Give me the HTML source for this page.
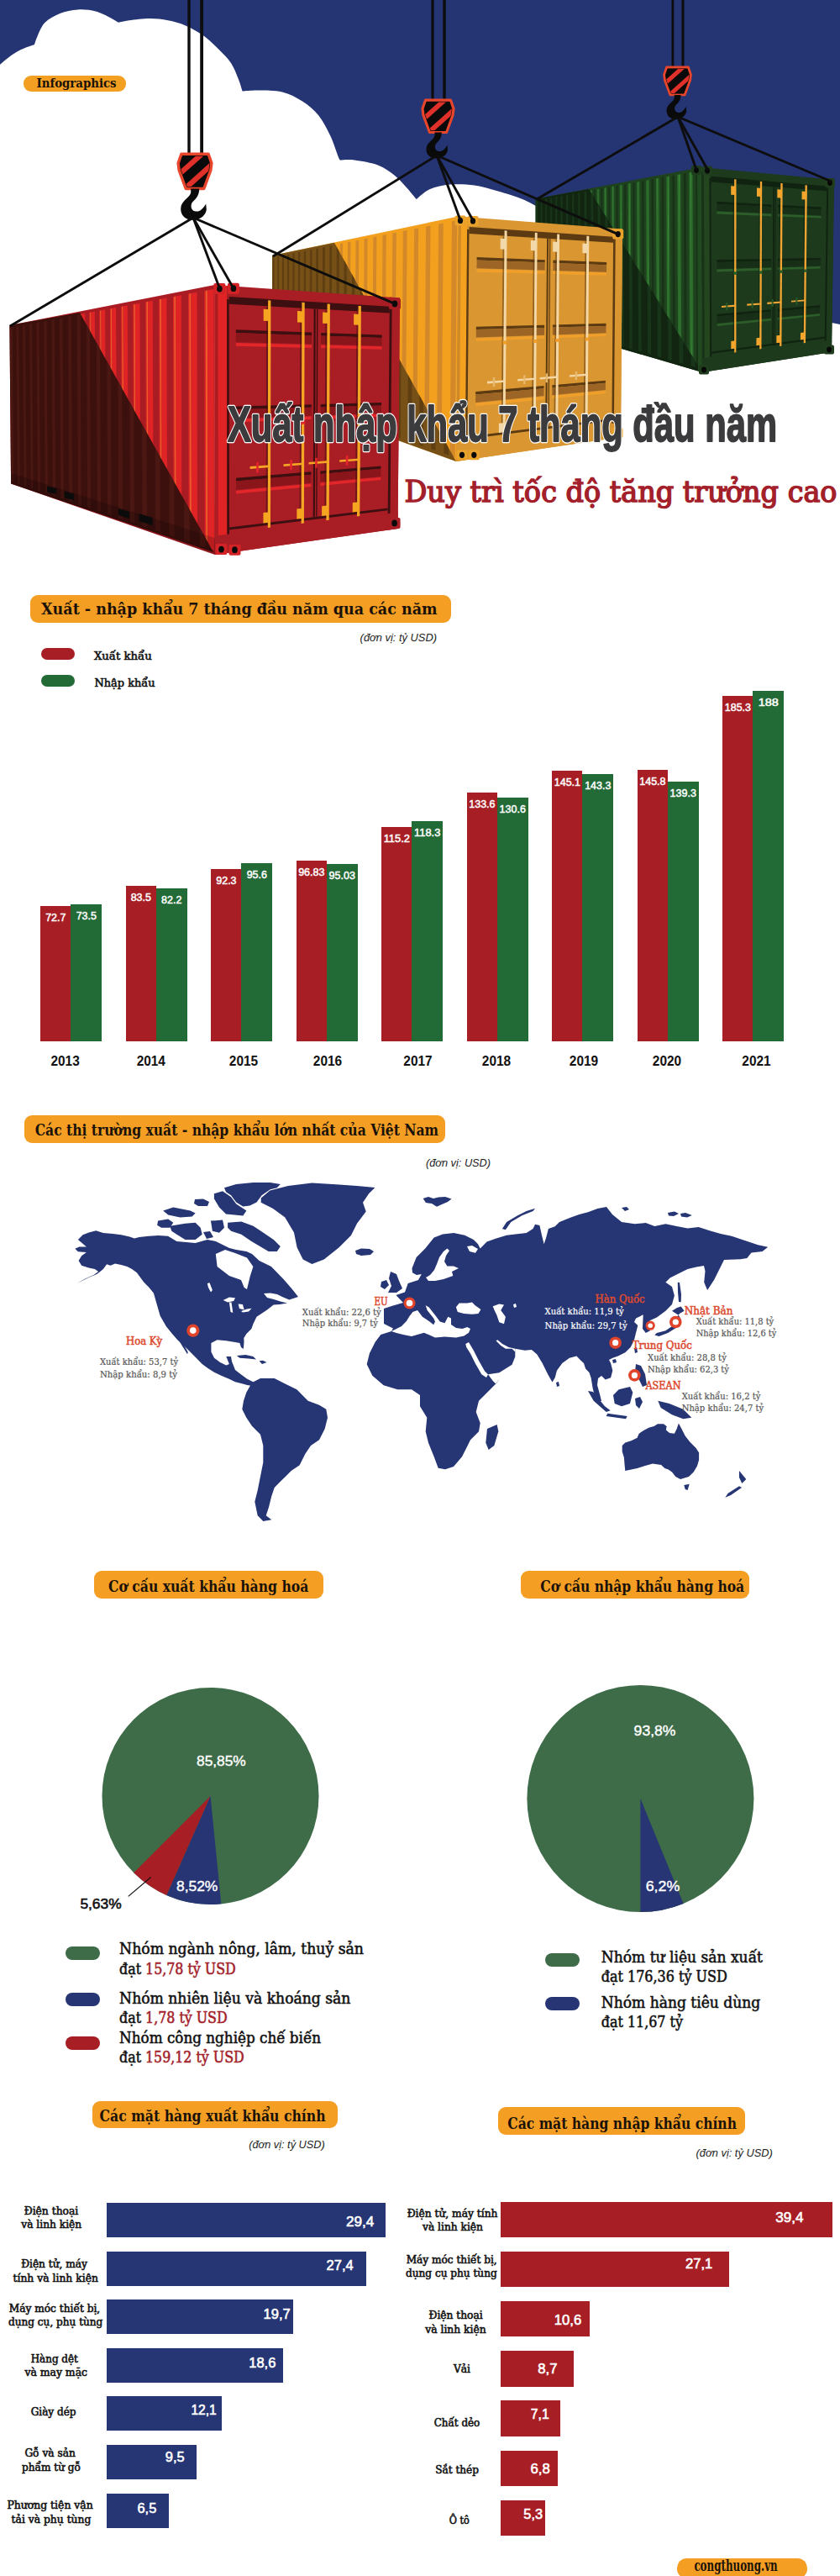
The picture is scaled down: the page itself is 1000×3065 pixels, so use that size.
<!DOCTYPE html>
<html lang="vi">
<head>
<meta charset="utf-8">
<title>Xuất nhập khẩu 7 tháng đầu năm</title>
<style>
*{margin:0;padding:0;box-sizing:border-box}
html,body{width:1000px;height:3065px;background:#fff;overflow:hidden}
body{position:relative;font-family:"Liberation Serif",serif;color:#111}
.a{position:absolute;white-space:nowrap}
.badge{position:absolute;background:#f59e24;border-radius:13px}
.bt{position:absolute;white-space:nowrap;font-family:"Liberation Serif",serif;font-weight:bold;color:#1a1208;transform-origin:0 0;line-height:1}
.unit{font-family:"Liberation Sans",sans-serif;font-style:italic;font-size:13px;color:#222;line-height:1}
.bar{position:absolute}
.r{background:#a81e25}
.g{background:#226b37}
.n{background:#263573}
.bv{position:absolute;font-family:"Liberation Sans",sans-serif;color:#fff;font-size:14px;white-space:nowrap;line-height:1}
.yr{position:absolute;font-family:"Liberation Sans",sans-serif;font-weight:bold;font-size:17px;color:#111;white-space:nowrap;transform:translateX(-50%);line-height:1}
.lbl{position:absolute;font-family:"Liberation Serif",serif;font-weight:bold;font-size:15px;line-height:17px;color:#111;text-align:center;white-space:nowrap;transform:translateX(-50%)}
.hv{position:absolute;font-family:"Liberation Sans",sans-serif;font-weight:bold;font-size:18px;color:#fff;white-space:nowrap;line-height:1}
.pill{position:absolute;border-radius:8px}
.lg{position:absolute;font-family:"Liberation Serif",serif;font-weight:bold;font-size:21px;line-height:23px;color:#111;white-space:nowrap}
.lg b{color:#a0232b}
.mk{position:absolute;font-family:"Liberation Serif",serif;font-weight:bold;color:#e0452c;white-space:nowrap;line-height:1}
.mt{position:absolute;font-family:"Liberation Serif",serif;color:#555;font-size:11px;line-height:14px;white-space:nowrap}
</style>
</head>
<body>

<svg class="a" style="left:0;top:0" width="1000" height="700" viewBox="0 0 1000 700"><rect x="0" y="0" width="1000" height="700" fill="#253473"/>
<path d="M0.0,76.8 C1.8,75.3 6.5,70.9 10.7,67.9 C14.9,64.9 19.9,61.5 25.0,59.0 C30.1,56.5 38.3,53.9 41.0,52.9 L41.0,52.9 C41.6,51.2 42.5,47.2 44.6,42.9 C46.7,38.5 49.1,31.3 53.6,26.8 C58.1,22.3 64.9,18.6 71.4,16.0 C78.0,13.4 85.8,11.8 92.9,11.4 C100.0,11.0 107.5,11.9 114.0,13.6 C120.5,15.3 127.5,19.2 132.0,21.4 C136.5,23.6 139.5,25.9 141.0,26.8 L141.0,26.8 C143.1,26.4 147.3,25.1 153.6,24.3 C159.9,23.5 170.9,22.0 178.6,22.0 C186.3,22.0 192.9,22.9 200.0,24.3 C207.1,25.7 213.8,27.3 221.0,30.4 C228.2,33.5 236.4,38.2 243.0,43.0 C249.6,47.8 255.4,53.7 260.7,59.0 C266.0,64.3 271.1,69.2 275.0,75.0 C278.9,80.8 281.5,88.4 283.8,94.0 C286.1,99.6 287.8,106.2 288.6,108.6 L288.6,108.6 C291.8,108.4 299.7,107.4 307.6,107.6 C315.5,107.8 327.3,107.3 336.0,109.5 C344.7,111.7 352.8,115.9 360.0,120.5 C367.2,125.1 373.5,130.2 379.0,137.0 C384.5,143.8 389.0,152.7 393.0,161.0 C397.0,169.3 400.9,182.1 402.9,187.0 C404.9,191.9 404.6,189.9 405.0,190.5 L405.0,190.5 C407.8,190.5 414.4,189.5 422.0,190.5 C429.6,191.5 442.6,193.7 450.5,196.7 C458.4,199.7 463.9,204.2 469.5,208.6 C475.1,213.0 479.4,218.2 483.8,222.9 C488.2,227.6 493.7,234.7 495.7,237.0 L495.7,237.0 C498.4,235.0 505.3,227.9 512.0,225.0 C518.7,222.1 527.2,220.2 536.0,219.5 C544.8,218.8 555.3,219.2 564.8,220.5 C574.3,221.8 583.5,224.8 593.0,227.6 C602.5,230.3 614.0,233.8 622.0,237.0 C630.0,240.2 637.8,245.1 641.0,246.7 L700,300 L990,384 L1000,386 L1000,700 L0,700 Z" fill="#ffffff"/>
<polygon points="637.7,236.4 835.0,199.0 836.0,443.0 637.7,385.0" fill="#1f421e" />
<polygon points="637.7,238.6 638.3,238.5 638.3,383.0 637.7,382.8" fill="#2b6a2b" />
<polygon points="638.3,238.5 638.8,238.4 638.8,383.1 638.3,383.0" fill="#3a8c38" />
<polygon points="638.8,238.4 639.3,238.3 639.3,383.2 638.8,383.1" fill="#2b6a2b" />
<polygon points="640.6,238.1 641.7,237.9 641.7,383.9 640.6,383.6" fill="#173217" />
<polygon points="643.1,237.6 643.7,237.5 643.8,384.5 643.1,384.3" fill="#2b6a2b" />
<polygon points="643.7,237.5 644.2,237.4 644.2,384.6 643.8,384.5" fill="#3a8c38" />
<polygon points="644.2,237.4 644.7,237.3 644.8,384.8 644.2,384.6" fill="#2b6a2b" />
<polygon points="646.1,237.1 647.2,236.9 647.3,385.5 646.2,385.2" fill="#173217" />
<polygon points="648.7,236.6 649.3,236.5 649.4,386.1 648.7,385.9" fill="#2b6a2b" />
<polygon points="649.3,236.5 649.8,236.4 649.9,386.2 649.4,386.1" fill="#3a8c38" />
<polygon points="649.8,236.4 650.4,236.3 650.4,386.4 649.9,386.2" fill="#2b6a2b" />
<polygon points="651.8,236.1 653.0,235.8 653.1,387.2 651.9,386.8" fill="#173217" />
<polygon points="654.5,235.6 655.2,235.4 655.3,387.8 654.5,387.6" fill="#2b6a2b" />
<polygon points="655.2,235.4 655.7,235.4 655.7,387.9 655.3,387.8" fill="#3a8c38" />
<polygon points="655.7,235.4 656.3,235.2 656.3,388.1 655.7,387.9" fill="#2b6a2b" />
<polygon points="657.8,235.0 659.0,234.8 659.1,388.9 657.9,388.5" fill="#173217" />
<polygon points="660.5,234.5 661.2,234.3 661.4,389.5 660.6,389.3" fill="#2b6a2b" />
<polygon points="661.2,234.3 661.7,234.2 661.9,389.7 661.4,389.5" fill="#3a8c38" />
<polygon points="661.7,234.2 662.4,234.1 662.5,389.8 661.9,389.7" fill="#2b6a2b" />
<polygon points="663.9,233.8 665.2,233.6 665.3,390.7 664.1,390.3" fill="#173217" />
<polygon points="666.8,233.3 667.6,233.2 667.7,391.3 666.9,391.1" fill="#2b6a2b" />
<polygon points="667.6,233.2 668.1,233.1 668.2,391.5 667.7,391.3" fill="#3a8c38" />
<polygon points="668.1,233.1 668.7,233.0 668.9,391.7 668.2,391.5" fill="#2b6a2b" />
<polygon points="670.4,232.7 671.7,232.4 671.9,392.5 670.5,392.1" fill="#173217" />
<polygon points="673.4,232.1 674.2,232.0 674.3,393.2 673.5,393.0" fill="#2b6a2b" />
<polygon points="674.2,232.0 674.7,231.9 674.9,393.4 674.3,393.2" fill="#3a8c38" />
<polygon points="674.7,231.9 675.4,231.8 675.6,393.6 674.9,393.4" fill="#2b6a2b" />
<polygon points="677.1,231.5 678.5,231.2 678.7,394.5 677.3,394.1" fill="#173217" />
<polygon points="680.2,230.9 681.0,230.7 681.2,395.2 680.4,395.0" fill="#2b6a2b" />
<polygon points="681.0,230.7 681.6,230.6 681.8,395.4 681.2,395.2" fill="#3a8c38" />
<polygon points="681.6,230.6 682.3,230.5 682.5,395.6 681.8,395.4" fill="#2b6a2b" />
<polygon points="684.1,230.2 685.5,229.9 685.8,396.5 684.3,396.1" fill="#173217" />
<polygon points="687.3,229.6 688.2,229.4 688.5,397.3 687.6,397.0" fill="#2b6a2b" />
<polygon points="688.2,229.4 688.8,229.3 689.0,397.4 688.5,397.3" fill="#3a8c38" />
<polygon points="688.8,229.3 689.5,229.2 689.8,397.6 689.0,397.4" fill="#2b6a2b" />
<polygon points="691.4,228.8 692.9,228.6 693.2,398.6 691.7,398.2" fill="#173217" />
<polygon points="694.8,228.2 695.7,228.1 696.0,399.4 695.1,399.1" fill="#2b6a2b" />
<polygon points="695.7,228.1 696.3,227.9 696.6,399.6 696.0,399.4" fill="#3a8c38" />
<polygon points="696.3,227.9 697.1,227.8 697.4,399.8 696.6,399.6" fill="#2b6a2b" />
<polygon points="699.0,227.4 700.6,227.2 700.9,400.8 699.3,400.4" fill="#173217" />
<polygon points="702.6,226.8 703.6,226.6 703.9,401.7 702.9,401.4" fill="#2b6a2b" />
<polygon points="703.6,226.6 704.2,226.5 704.5,401.8 703.9,401.7" fill="#3a8c38" />
<polygon points="704.2,226.5 705.0,226.4 705.3,402.1 704.5,401.8" fill="#2b6a2b" />
<polygon points="707.0,226.0 708.7,225.7 709.0,403.1 707.4,402.7" fill="#173217" />
<polygon points="710.8,225.3 711.8,225.1 712.1,404.0 711.1,403.7" fill="#2b6a2b" />
<polygon points="711.8,225.1 712.5,225.0 712.8,404.2 712.1,404.0" fill="#3a8c38" />
<polygon points="712.5,225.0 713.3,224.8 713.7,404.4 712.8,404.2" fill="#2b6a2b" />
<polygon points="715.4,224.5 717.2,224.1 717.5,405.6 715.8,405.1" fill="#173217" />
<polygon points="719.3,223.7 720.4,223.6 720.8,406.5 719.7,406.2" fill="#2b6a2b" />
<polygon points="720.4,223.6 721.1,223.4 721.5,406.7 720.8,406.5" fill="#3a8c38" />
<polygon points="721.1,223.4 722.0,223.3 722.4,406.9 721.5,406.7" fill="#2b6a2b" />
<polygon points="724.2,222.9 726.0,222.5 726.5,408.1 724.7,407.6" fill="#173217" />
<polygon points="728.3,222.1 729.4,221.9 729.9,409.1 728.8,408.8" fill="#2b6a2b" />
<polygon points="729.4,221.9 730.2,221.8 730.6,409.3 729.9,409.1" fill="#3a8c38" />
<polygon points="730.2,221.8 731.1,221.6 731.6,409.6 730.6,409.3" fill="#2b6a2b" />
<polygon points="733.5,221.2 735.4,220.8 735.9,410.8 733.9,410.2" fill="#173217" />
<polygon points="737.8,220.4 738.9,220.2 739.4,411.8 738.3,411.5" fill="#2b6a2b" />
<polygon points="738.9,220.2 739.7,220.0 740.2,412.0 739.4,411.8" fill="#3a8c38" />
<polygon points="739.7,220.0 740.7,219.9 741.2,412.3 740.2,412.0" fill="#2b6a2b" />
<polygon points="743.2,219.4 745.2,219.0 745.7,413.6 743.7,413.0" fill="#173217" />
<polygon points="747.7,218.6 748.9,218.3 749.5,414.7 748.3,414.3" fill="#2b6a2b" />
<polygon points="748.9,218.3 749.8,218.2 750.3,414.9 749.5,414.7" fill="#3a8c38" />
<polygon points="749.8,218.2 750.8,218.0 751.4,415.2 750.3,414.9" fill="#2b6a2b" />
<polygon points="753.4,217.5 755.5,217.2 756.1,416.5 754.0,415.9" fill="#173217" />
<polygon points="758.2,216.7 759.5,216.4 760.1,417.7 758.8,417.3" fill="#2b6a2b" />
<polygon points="759.5,216.4 760.3,216.3 761.0,417.9 760.1,417.7" fill="#3a8c38" />
<polygon points="760.3,216.3 761.4,216.1 762.0,418.2 761.0,417.9" fill="#2b6a2b" />
<polygon points="764.2,215.6 766.4,215.2 767.0,419.7 764.8,419.0" fill="#173217" />
<polygon points="769.2,214.7 770.6,214.4 771.3,420.9 769.9,420.5" fill="#2b6a2b" />
<polygon points="770.6,214.4 771.5,214.2 772.2,421.1 771.3,420.9" fill="#3a8c38" />
<polygon points="771.5,214.2 772.7,214.0 773.3,421.5 772.2,421.1" fill="#2b6a2b" />
<polygon points="775.6,213.5 777.9,213.1 778.6,423.0 776.3,422.3" fill="#173217" />
<polygon points="780.9,212.5 782.3,212.3 783.1,424.2 781.6,423.8" fill="#2b6a2b" />
<polygon points="782.3,212.3 783.3,212.1 784.0,424.5 783.1,424.2" fill="#3a8c38" />
<polygon points="783.3,212.1 784.5,211.9 785.3,424.9 784.0,424.5" fill="#2b6a2b" />
<polygon points="787.6,211.3 790.1,210.8 790.8,426.5 788.3,425.7" fill="#173217" />
<polygon points="793.3,210.3 794.8,210.0 795.6,427.8 794.0,427.4" fill="#2b6a2b" />
<polygon points="794.8,210.0 795.8,209.8 796.6,428.1 795.6,427.8" fill="#3a8c38" />
<polygon points="795.8,209.8 797.1,209.6 797.9,428.5 796.6,428.1" fill="#2b6a2b" />
<polygon points="800.4,209.0 803.0,208.5 803.8,430.2 801.2,429.4" fill="#173217" />
<polygon points="806.3,207.9 808.0,207.6 808.8,431.6 807.2,431.1" fill="#2b6a2b" />
<polygon points="808.0,207.6 809.1,207.4 809.9,431.9 808.8,431.6" fill="#3a8c38" />
<polygon points="809.1,207.4 810.4,207.1 811.3,432.3 809.9,431.9" fill="#2b6a2b" />
<polygon points="813.9,206.5 816.7,206.0 817.6,434.1 814.7,433.3" fill="#173217" />
<polygon points="820.2,205.4 822.0,205.0 822.9,435.6 821.1,435.1" fill="#2b6a2b" />
<polygon points="822.0,205.0 823.1,204.8 824.0,435.9 822.9,435.6" fill="#3a8c38" />
<polygon points="823.1,204.8 824.6,204.6 825.5,436.3 824.0,435.9" fill="#2b6a2b" />
<polygon points="828.2,203.9 831.2,203.3 832.2,438.3 829.2,437.4" fill="#173217" />
<polygon points="637.7,236.4 701.0,225.0 836.0,443.0 637.7,385.0" fill="#112511" />
<clipPath id="sh637"><polygon points="637.7,236.4 701.0,225.0 836.0,443.0 637.7,385.0"/></clipPath>
<polygon points="638.2,238.5 640.1,238.2 640.1,383.5 638.2,382.9" fill="#183419" clip-path="url(#sh637)"/>
<polygon points="643.6,237.5 645.6,237.2 645.6,385.0 643.7,384.5" fill="#183419" clip-path="url(#sh637)"/>
<polygon points="649.2,236.5 651.2,236.2 651.3,386.7 649.3,386.1" fill="#183419" clip-path="url(#sh637)"/>
<polygon points="655.1,235.5 657.2,235.1 657.3,388.3 655.1,387.7" fill="#183419" clip-path="url(#sh637)"/>
<polygon points="661.1,234.4 663.3,234.0 663.4,390.1 661.2,389.5" fill="#183419" clip-path="url(#sh637)"/>
<polygon points="667.4,233.2 669.7,232.8 669.9,391.9 667.6,391.3" fill="#183419" clip-path="url(#sh637)"/>
<polygon points="674.0,232.0 676.4,231.6 676.6,393.9 674.2,393.2" fill="#183419" clip-path="url(#sh637)"/>
<polygon points="680.9,230.8 683.4,230.3 683.6,395.9 681.1,395.2" fill="#183419" clip-path="url(#sh637)"/>
<polygon points="688.1,229.4 690.6,229.0 690.9,398.0 688.3,397.2" fill="#183419" clip-path="url(#sh637)"/>
<polygon points="695.6,228.1 698.3,227.6 698.6,400.1 695.8,399.4" fill="#183419" clip-path="url(#sh637)"/>
<polygon points="703.4,226.7 706.2,226.1 706.6,402.4 703.7,401.6" fill="#183419" clip-path="url(#sh637)"/>
<polygon points="711.6,225.2 714.6,224.6 715.0,404.8 712.0,404.0" fill="#183419" clip-path="url(#sh637)"/>
<polygon points="720.2,223.6 723.3,223.0 723.8,407.3 720.6,406.4" fill="#183419" clip-path="url(#sh637)"/>
<polygon points="729.3,221.9 732.5,221.3 733.0,410.0 729.7,409.0" fill="#183419" clip-path="url(#sh637)"/>
<polygon points="738.7,220.2 742.2,219.6 742.7,412.7 739.2,411.7" fill="#183419" clip-path="url(#sh637)"/>
<polygon points="748.7,218.4 752.4,217.7 752.9,415.6 749.3,414.6" fill="#183419" clip-path="url(#sh637)"/>
<polygon points="759.3,216.5 763.1,215.8 763.7,418.7 759.9,417.6" fill="#183419" clip-path="url(#sh637)"/>
<polygon points="770.4,214.4 774.4,213.7 775.1,422.0 771.0,420.8" fill="#183419" clip-path="url(#sh637)"/>
<polygon points="782.1,212.3 786.4,211.5 787.1,425.4 782.8,424.2" fill="#183419" clip-path="url(#sh637)"/>
<polygon points="794.5,210.0 799.0,209.2 799.8,429.0 795.3,427.7" fill="#183419" clip-path="url(#sh637)"/>
<polygon points="807.7,207.6 812.5,206.8 813.3,432.9 808.5,431.5" fill="#183419" clip-path="url(#sh637)"/>
<polygon points="821.7,205.1 826.8,204.2 827.7,437.0 822.6,435.5" fill="#183419" clip-path="url(#sh637)"/>
<polygon points="830.1,199.9 835.0,199.0 836.0,443.0 831.0,441.6" fill="#214a20" />
<polygon points="835.0,199.0 993.0,214.0 990.0,419.0 836.0,443.0" fill="#1e3a1d" />
<polygon points="835.0,199.0 844.5,199.9 845.2,441.6 836.0,443.0" fill="#24461f" />
<polygon points="835.0,203.9 837.9,204.1 838.8,440.1 836.0,440.6" fill="#183218" />
<polygon points="844.5,212.0 846.4,212.1 847.1,429.2 845.2,429.5" fill="#102310" />
<polygon points="984.3,213.2 993.0,214.0 990.0,419.0 981.5,420.3" fill="#1e3a1d" />
<polygon points="984.2,223.5 986.2,223.7 983.7,405.5 981.7,405.8" fill="#102310" />
<polygon points="846.4,209.7 984.2,221.5 984.1,227.3 846.4,216.5" fill="#102310" />
<polygon points="847.0,418.4 981.8,400.6 981.8,402.7 847.0,420.8" fill="#102310" />
<polygon points="835.9,425.9 990.2,404.6 990.0,419.0 836.0,443.0" fill="#1e3a1d" />
<polygon points="853.3,239.8 918.6,243.4 918.5,246.1 853.3,242.7" fill="#102310" />
<polygon points="853.3,242.7 918.5,246.1 918.5,253.7 853.3,250.9" fill="#172f17" />
<polygon points="853.3,251.6 918.5,254.4 918.5,257.2 853.3,254.6" fill="#2c5e2a" />
<polygon points="853.4,309.0 918.2,307.9 918.2,310.6 853.4,311.9" fill="#102310" />
<polygon points="853.4,311.9 918.2,310.6 918.2,317.9 853.4,319.8" fill="#172f17" />
<polygon points="853.4,320.5 918.2,318.6 918.2,321.3 853.4,323.4" fill="#2c5e2a" />
<polygon points="853.6,373.7 917.9,368.2 917.9,370.9 853.6,376.5" fill="#102310" />
<polygon points="853.6,376.5 917.9,370.9 917.9,378.2 853.6,384.4" fill="#172f17" />
<polygon points="853.6,385.2 917.9,378.9 917.9,381.6 853.6,388.0" fill="#2c5e2a" />
<polygon points="926.4,243.8 977.6,246.6 977.5,249.2 926.4,246.5" fill="#102310" />
<polygon points="926.4,246.5 977.5,249.2 977.4,256.3 926.4,254.1" fill="#172f17" />
<polygon points="926.4,254.8 977.4,256.9 977.4,259.5 926.3,257.5" fill="#2c5e2a" />
<polygon points="926.0,307.8 976.8,306.9 976.8,309.4 926.0,310.4" fill="#102310" />
<polygon points="926.0,310.4 976.8,309.4 976.7,316.3 926.0,317.7" fill="#172f17" />
<polygon points="926.0,318.4 976.7,316.9 976.6,319.4 926.0,321.0" fill="#2c5e2a" />
<polygon points="925.7,367.5 976.1,363.3 976.1,365.8 925.7,370.2" fill="#102310" />
<polygon points="925.7,370.2 976.1,365.8 976.0,372.7 925.6,377.5" fill="#172f17" />
<polygon points="925.6,378.2 976.0,373.3 975.9,375.8 925.6,380.8" fill="#2c5e2a" />
<polygon points="920.4,222.3 922.0,222.4 921.0,408.6 919.4,408.8" fill="#102310" />
<polygon points="922.9,222.5 923.9,222.5 922.8,408.4 921.9,408.5" fill="#102310" />
<polygon points="872.6,219.0 874.1,219.1 874.1,414.8 872.6,415.0" fill="#102310" opacity="0.55"/>
<polygon points="874.1,213.3 876.5,213.5 876.4,419.2 874.1,419.5" fill="#f0a532" />
<polygon points="870.2,221.2 875.9,221.6 875.9,232.1 870.2,231.8" fill="#f3a52c" />
<polygon points="870.3,405.9 875.9,405.2 875.9,414.6 870.3,415.3" fill="#f3a52c" />
<polygon points="873.4,323.4 877.2,323.3 877.1,326.8 873.4,326.9" fill="#2c5e2a" />
<polygon points="859.0,363.9 876.1,362.6 876.1,364.7 859.0,366.0" fill="#f0a532" />
<polygon points="864.4,359.9 866.3,359.8 866.3,369.3 864.4,369.4" fill="#275a26" />
<polygon points="903.4,221.4 904.9,221.5 904.2,410.8 902.8,411.0" fill="#102310" opacity="0.55"/>
<polygon points="904.9,215.8 907.2,216.0 906.5,415.1 904.2,415.4" fill="#f0a532" />
<polygon points="901.0,223.5 906.7,223.9 906.6,234.1 901.0,233.7" fill="#f3a52c" />
<polygon points="900.5,402.2 906.0,401.6 906.0,410.6 900.4,411.3" fill="#f3a52c" />
<polygon points="903.8,322.4 907.6,322.3 907.5,325.7 903.8,325.8" fill="#2c5e2a" />
<polygon points="889.3,361.6 906.3,360.4 906.3,362.4 889.2,363.7" fill="#f0a532" />
<polygon points="894.7,357.8 896.6,357.7 896.5,366.8 894.7,367.0" fill="#275a26" />
<polygon points="927.8,223.3 929.3,223.4 928.1,407.7 926.7,407.9" fill="#102310" opacity="0.55"/>
<polygon points="929.3,217.9 931.7,218.1 930.4,411.8 928.1,412.1" fill="#f0a532" />
<polygon points="925.4,225.3 931.1,225.8 931.0,235.7 925.4,235.3" fill="#f3a52c" />
<polygon points="924.4,399.3 930.0,398.7 929.9,407.5 924.4,408.2" fill="#f3a52c" />
<polygon points="928.0,321.6 931.7,321.5 931.7,324.8 928.0,325.0" fill="#2c5e2a" />
<polygon points="913.3,359.8 930.4,358.6 930.4,360.5 913.3,361.9" fill="#f0a532" />
<polygon points="918.8,356.1 920.6,355.9 920.6,364.9 918.7,365.0" fill="#275a26" />
<polygon points="957.0,225.6 958.5,225.7 956.7,403.9 955.2,404.1" fill="#102310" opacity="0.55"/>
<polygon points="958.5,220.3 960.9,220.5 959.0,407.9 956.7,408.2" fill="#f0a532" />
<polygon points="954.6,227.5 960.3,228.0 960.2,237.5 954.5,237.2" fill="#f3a52c" />
<polygon points="953.0,395.9 958.6,395.2 958.5,403.7 952.9,404.4" fill="#f3a52c" />
<polygon points="956.8,320.7 960.6,320.6 960.5,323.8 956.8,323.9" fill="#2c5e2a" />
<polygon points="942.0,357.7 959.1,356.4 959.1,358.3 942.0,359.6" fill="#f0a532" />
<polygon points="947.5,354.0 949.4,353.9 949.3,362.5 947.4,362.7" fill="#275a26" />
<rect x="823.0" y="197.1" width="12" height="11" rx="2" fill="#1f3d1d"/>
<ellipse cx="829.0" cy="202.6" rx="2.9" ry="3.4" fill="#070707"/>
<rect x="836.0" y="197.5" width="12" height="11" rx="2" fill="#1f3d1d"/>
<ellipse cx="842.0" cy="203.0" rx="2.9" ry="3.4" fill="#070707"/>
<rect x="982.0" y="212.0" width="12" height="11" rx="2" fill="#1f3d1d"/>
<ellipse cx="988.0" cy="217.5" rx="2.9" ry="3.4" fill="#070707"/>
<rect x="981.0" y="410.5" width="12" height="11" rx="2" fill="#1f3d1d"/>
<ellipse cx="987.0" cy="416.0" rx="2.9" ry="3.4" fill="#070707"/>
<rect x="832.0" y="434.5" width="12" height="11" rx="2" fill="#1f3d1d"/>
<ellipse cx="838.0" cy="440.0" rx="2.9" ry="3.4" fill="#070707"/>
<line x1="800.9" y1="0" x2="800.9" y2="82" stroke="#0d0d0d" stroke-width="2.8"/>
<line x1="813.0" y1="0" x2="813.0" y2="82" stroke="#0d0d0d" stroke-width="3.0"/>
<polygon points="793.6,80.0 819.4,80.0 822.4,88.6 821.6,95.5 815.1,112.9 797.9,112.9 791.4,95.5 790.6,88.6" fill="#e8462c" stroke="#e8462c" stroke-width="2.8" stroke-linejoin="round"/>
<clipPath id="hk806"><polygon points="794.9,81.9 818.1,81.9 820.5,89.0 819.7,95.1 813.9,111.1 799.1,111.1 793.3,95.1 792.5,89.0"/></clipPath>
<polygon points="794.9,81.9 818.1,81.9 820.5,89.0 819.7,95.1 813.9,111.1 799.1,111.1 793.3,95.1 792.5,89.0" fill="#0a0a0a" stroke="#0a0a0a" stroke-width="1.0" stroke-linejoin="round"/>
<polygon points="785.4,108.0 824.0,73.7 820.7,69.9 782.1,104.2" fill="#e0302a" clip-path="url(#hk806)"/>
<polygon points="792.3,120.5 830.7,86.1 827.4,82.4 789.0,116.8" fill="#e0302a" clip-path="url(#hk806)"/>
<path d="M802.8,112.9 L810.5,112.9 C810.5,118.5 808.4,121.3 804.6,125.0 C801.9,127.8 802.8,133.4 807.4,133.9 C811.1,134.3 813.9,131.5 816.7,126.9 L817.2,132.5 C815.8,139.0 810.2,141.8 804.6,141.8 C797.2,141.8 793.5,137.1 793.5,131.5 C793.5,124.1 801.9,121.3 802.8,116.7 Z" fill="#0a0a0a"/>
<line x1="807" y1="139" x2="639" y2="237" stroke="#0d0d0d" stroke-width="2.9"/>
<line x1="807" y1="139" x2="829" y2="202" stroke="#0d0d0d" stroke-width="2.9"/>
<line x1="807" y1="139" x2="843" y2="203" stroke="#0d0d0d" stroke-width="2.9"/>
<line x1="807" y1="139" x2="990" y2="216" stroke="#0d0d0d" stroke-width="2.9"/>
<polygon points="324.0,304.0 545.5,257.5 543.0,549.0 324.0,470.0" fill="#f3a01f" />
<polygon points="327.0,305.9 329.1,305.5 329.1,469.3 327.0,468.6" fill="#d3892a" />
<polygon points="332.8,304.7 334.9,304.3 334.8,471.3 332.7,470.6" fill="#d3892a" />
<polygon points="338.7,303.5 340.9,303.1 340.8,473.4 338.5,472.6" fill="#d3892a" />
<polygon points="344.9,302.3 347.2,301.8 346.9,475.6 344.6,474.8" fill="#d3892a" />
<polygon points="351.3,301.0 353.7,300.5 353.4,477.9 351.0,477.0" fill="#d3892a" />
<polygon points="358.0,299.6 360.5,299.1 360.1,480.2 357.6,479.3" fill="#d3892a" />
<polygon points="364.9,298.2 367.6,297.7 367.1,482.7 364.5,481.8" fill="#d3892a" />
<polygon points="372.2,296.8 375.0,296.2 374.4,485.3 371.7,484.3" fill="#d3892a" />
<polygon points="379.8,295.2 382.7,294.7 382.1,488.0 379.2,486.9" fill="#d3892a" />
<polygon points="387.8,293.6 390.8,293.0 390.1,490.8 387.1,489.7" fill="#d3892a" />
<polygon points="396.1,292.0 399.3,291.3 398.4,493.7 395.3,492.6" fill="#d3892a" />
<polygon points="404.8,290.2 408.1,289.5 407.2,496.8 403.9,495.6" fill="#d3892a" />
<polygon points="413.9,288.4 417.4,287.7 416.4,500.0 413.0,498.8" fill="#d3892a" />
<polygon points="423.5,286.4 427.2,285.7 426.1,503.5 422.5,502.2" fill="#d3892a" />
<polygon points="433.6,284.4 437.5,283.6 436.3,507.0 432.4,505.7" fill="#d3892a" />
<polygon points="444.3,282.3 448.4,281.4 447.0,510.8 443.0,509.4" fill="#d3892a" />
<polygon points="455.5,280.0 459.8,279.1 458.3,514.8 454.0,513.3" fill="#d3892a" />
<polygon points="467.3,277.6 471.9,276.7 470.2,519.0 465.7,517.4" fill="#d3892a" />
<polygon points="479.8,275.1 484.6,274.1 482.9,523.4 478.1,521.8" fill="#d3892a" />
<polygon points="493.1,272.4 498.2,271.4 496.3,528.2 491.2,526.4" fill="#d3892a" />
<polygon points="507.1,269.6 512.5,268.5 510.5,533.2 505.1,531.3" fill="#d3892a" />
<polygon points="522.1,266.6 527.8,265.4 525.6,538.5 519.9,536.5" fill="#d3892a" />
<polygon points="538.0,263.4 544.1,262.1 541.7,544.2 535.6,542.0" fill="#d3892a" />
<polygon points="324.0,304.0 398.0,288.7 543.0,549.0 324.0,470.0" fill="#765016" />
<clipPath id="sh324"><polygon points="324.0,304.0 398.0,288.7 543.0,549.0 324.0,470.0"/></clipPath>
<polygon points="324.5,306.4 326.5,306.0 326.5,468.4 324.5,467.7" fill="#5f3f12" clip-path="url(#sh324)"/>
<polygon points="330.2,305.2 332.2,304.8 332.1,470.4 330.1,469.7" fill="#5f3f12" clip-path="url(#sh324)"/>
<polygon points="336.0,304.1 338.1,303.7 337.9,472.4 335.9,471.7" fill="#5f3f12" clip-path="url(#sh324)"/>
<polygon points="342.0,302.9 344.2,302.4 344.0,474.6 341.8,473.8" fill="#5f3f12" clip-path="url(#sh324)"/>
<polygon points="348.4,301.6 350.6,301.1 350.3,476.8 348.1,476.0" fill="#5f3f12" clip-path="url(#sh324)"/>
<polygon points="354.9,300.3 357.3,299.8 356.9,479.1 354.6,478.3" fill="#5f3f12" clip-path="url(#sh324)"/>
<polygon points="361.8,298.9 364.2,298.4 363.8,481.5 361.3,480.7" fill="#5f3f12" clip-path="url(#sh324)"/>
<polygon points="368.9,297.4 371.5,296.9 371.0,484.0 368.4,483.1" fill="#5f3f12" clip-path="url(#sh324)"/>
<polygon points="376.4,295.9 379.0,295.4 378.4,486.7 375.8,485.7" fill="#5f3f12" clip-path="url(#sh324)"/>
<polygon points="384.1,294.4 387.0,293.8 386.3,489.4 383.5,488.5" fill="#5f3f12" clip-path="url(#sh324)"/>
<polygon points="392.3,292.7 395.2,292.1 394.5,492.3 391.5,491.3" fill="#5f3f12" clip-path="url(#sh324)"/>
<polygon points="400.8,291.0 403.9,290.4 403.0,495.3 400.0,494.3" fill="#5f3f12" clip-path="url(#sh324)"/>
<polygon points="409.8,289.2 413.0,288.6 412.0,498.5 408.8,497.4" fill="#5f3f12" clip-path="url(#sh324)"/>
<polygon points="419.2,287.3 422.6,286.6 421.5,501.8 418.1,500.6" fill="#5f3f12" clip-path="url(#sh324)"/>
<polygon points="429.0,285.3 432.6,284.6 431.4,505.3 427.9,504.1" fill="#5f3f12" clip-path="url(#sh324)"/>
<polygon points="439.4,283.2 443.2,282.5 441.9,509.0 438.2,507.7" fill="#5f3f12" clip-path="url(#sh324)"/>
<polygon points="450.4,281.0 454.3,280.2 452.9,512.9 449.0,511.5" fill="#5f3f12" clip-path="url(#sh324)"/>
<polygon points="461.9,278.7 466.1,277.9 464.5,517.0 460.4,515.5" fill="#5f3f12" clip-path="url(#sh324)"/>
<polygon points="474.1,276.2 478.5,275.4 476.8,521.3 472.5,519.8" fill="#5f3f12" clip-path="url(#sh324)"/>
<polygon points="487.0,273.6 491.7,272.7 489.9,525.9 485.2,524.3" fill="#5f3f12" clip-path="url(#sh324)"/>
<polygon points="500.7,270.9 505.7,269.9 503.7,530.8 498.8,529.0" fill="#5f3f12" clip-path="url(#sh324)"/>
<polygon points="515.2,268.0 520.5,266.9 518.4,535.9 513.1,534.1" fill="#5f3f12" clip-path="url(#sh324)"/>
<polygon points="530.7,264.9 536.3,263.7 534.0,541.4 528.4,539.5" fill="#5f3f12" clip-path="url(#sh324)"/>
<polygon points="545.5,257.5 741.0,272.5 739.0,520.0 543.0,549.0" fill="#da9631" />
<polygon points="545.5,257.5 556.3,258.3 553.8,547.4 543.0,549.0" fill="#f4a11f" />
<polygon points="545.5,263.3 549.0,263.6 546.6,545.6 543.0,546.1" fill="#cf8a27" />
<polygon points="556.1,272.8 558.5,272.9 556.3,532.6 553.9,533.0" fill="#5c3a12" />
<polygon points="730.2,271.7 741.0,272.5 739.0,520.0 728.2,521.6" fill="#da9631" />
<polygon points="730.1,284.2 732.7,284.3 730.9,503.8 728.4,504.1" fill="#5c3a12" />
<polygon points="558.5,270.0 730.2,281.7 730.1,288.7 558.4,278.1" fill="#5c3a12" />
<polygon points="556.4,519.6 728.4,497.9 728.4,500.4 556.3,522.5" fill="#5c3a12" />
<polygon points="543.2,528.6 739.1,502.7 739.0,520.0 543.0,549.0" fill="#da9631" />
<polygon points="567.6,305.9 648.8,309.2 648.7,312.5 567.6,309.5" fill="#5c3a12" />
<polygon points="567.6,309.5 648.7,312.5 648.6,321.6 567.5,319.2" fill="#9c6526" />
<polygon points="567.5,320.1 648.6,322.5 648.6,325.8 567.4,323.7" fill="#f0a02a" />
<polygon points="566.9,388.7 648.1,386.7 648.1,389.9 566.8,392.1" fill="#5c3a12" />
<polygon points="566.8,392.1 648.1,389.9 648.0,398.7 566.8,401.6" fill="#9c6526" />
<polygon points="566.8,402.4 648.0,399.5 648.0,402.8 566.7,405.9" fill="#f0a02a" />
<polygon points="566.2,466.0 647.5,459.1 647.5,462.3 566.2,469.5" fill="#5c3a12" />
<polygon points="566.2,469.5 647.5,462.3 647.4,471.1 566.1,478.9" fill="#9c6526" />
<polygon points="566.1,479.8 647.4,471.9 647.4,475.2 566.1,483.2" fill="#f0a02a" />
<polygon points="658.5,309.6 722.1,312.1 722.1,315.2 658.5,312.9" fill="#5c3a12" />
<polygon points="658.5,312.9 722.1,315.2 722.0,323.8 658.4,321.9" fill="#9c6526" />
<polygon points="658.4,322.7 722.0,324.6 722.0,327.7 658.4,326.0" fill="#f0a02a" />
<polygon points="657.9,386.4 721.5,384.8 721.5,387.9 657.9,389.6" fill="#5c3a12" />
<polygon points="657.9,389.6 721.5,387.9 721.4,396.2 657.8,398.4" fill="#9c6526" />
<polygon points="657.8,399.2 721.4,396.9 721.4,399.9 657.8,402.4" fill="#f0a02a" />
<polygon points="657.3,458.2 720.9,452.8 720.9,455.8 657.3,461.4" fill="#5c3a12" />
<polygon points="657.3,461.4 720.9,455.8 720.9,464.1 657.2,470.2" fill="#9c6526" />
<polygon points="657.2,471.0 720.9,464.9 720.8,467.9 657.2,474.2" fill="#f0a02a" />
<polygon points="651.1,283.8 653.1,283.9 651.2,507.6 649.2,507.9" fill="#5c3a12" />
<polygon points="654.2,284.0 655.4,284.1 653.6,507.3 652.4,507.5" fill="#5c3a12" />
<polygon points="598.7,281.2 600.6,281.3 598.6,514.3 596.7,514.5" fill="#5c3a12" opacity="0.55"/>
<polygon points="600.6,274.3 603.6,274.5 601.5,519.5 598.5,519.9" fill="#f3d7a4" />
<polygon points="595.7,283.8 602.8,284.2 602.7,296.7 595.6,296.4" fill="#f3d9aa" />
<polygon points="593.9,503.7 600.9,502.9 600.8,514.0 593.8,514.9" fill="#f3d9aa" />
<polygon points="598.6,405.5 603.3,405.3 603.3,409.5 598.6,409.7" fill="#f0a02a" />
<polygon points="580.0,453.8 601.6,452.2 601.5,454.7 580.0,456.4" fill="#f3d7a4" />
<polygon points="586.9,449.1 589.3,448.9 589.2,460.1 586.8,460.3" fill="#e6b96e" />
<polygon points="634.9,283.4 636.7,283.5 634.8,509.7 633.0,509.9" fill="#5c3a12" opacity="0.55"/>
<polygon points="636.8,276.7 639.7,276.9 637.7,514.7 634.8,515.1" fill="#f3d7a4" />
<polygon points="631.9,285.9 639.0,286.3 638.9,298.5 631.8,298.1" fill="#f3d9aa" />
<polygon points="630.1,499.4 637.2,498.6 637.1,509.4 630.0,510.3" fill="#f3d9aa" />
<polygon points="634.8,404.1 639.5,403.9 639.5,407.9 634.8,408.1" fill="#f0a02a" />
<polygon points="616.3,451.0 637.8,449.4 637.8,451.8 616.2,453.5" fill="#f3d7a4" />
<polygon points="623.1,446.4 625.5,446.2 625.4,457.1 623.1,457.3" fill="#e6b96e" />
<polygon points="661.3,285.0 663.1,285.1 661.3,506.4 659.4,506.6" fill="#5c3a12" opacity="0.55"/>
<polygon points="663.2,278.5 666.1,278.7 664.2,511.3 661.3,511.7" fill="#f3d7a4" />
<polygon points="658.3,287.5 665.4,287.9 665.3,299.8 658.2,299.4" fill="#f3d9aa" />
<polygon points="656.6,496.3 663.6,495.5 663.6,506.1 656.5,507.0" fill="#f3d9aa" />
<polygon points="661.3,403.0 666.0,402.9 665.9,406.8 661.2,407.0" fill="#f0a02a" />
<polygon points="642.7,449.0 664.2,447.3 664.2,449.7 642.7,451.4" fill="#f3d7a4" />
<polygon points="649.6,444.5 651.9,444.3 651.8,455.0 649.5,455.2" fill="#e6b96e" />
<polygon points="696.5,287.1 698.3,287.2 696.6,501.9 694.7,502.1" fill="#5c3a12" opacity="0.55"/>
<polygon points="698.4,280.8 701.3,281.0 699.5,506.6 696.5,507.0" fill="#f3d7a4" />
<polygon points="693.5,289.5 700.6,289.9 700.5,301.5 693.4,301.1" fill="#f3d9aa" />
<polygon points="691.9,492.2 698.9,491.3 698.8,501.6 691.8,502.5" fill="#f3d9aa" />
<polygon points="696.5,401.7 701.2,401.5 701.2,405.3 696.5,405.5" fill="#f0a02a" />
<polygon points="677.9,446.3 699.5,444.6 699.5,446.9 677.9,448.6" fill="#f3d7a4" />
<polygon points="684.8,441.9 687.2,441.7 687.1,452.1 684.7,452.3" fill="#e6b96e" />
<rect x="541.5" y="256.4" width="13" height="12" rx="2" fill="#e9a22c"/>
<ellipse cx="548.0" cy="262.4" rx="3.1" ry="3.6" fill="#0a0a0a"/>
<rect x="556.5" y="256.9" width="13" height="12" rx="2" fill="#e9a22c"/>
<ellipse cx="563.0" cy="262.9" rx="3.1" ry="3.6" fill="#0a0a0a"/>
<rect x="729.2" y="272.6" width="13" height="12" rx="2" fill="#e9a22c"/>
<ellipse cx="735.7" cy="278.6" rx="3.1" ry="3.6" fill="#0a0a0a"/>
<rect x="728.5" y="509.0" width="13" height="12" rx="2" fill="#e9a22c"/>
<ellipse cx="735.0" cy="515.0" rx="3.1" ry="3.6" fill="#0a0a0a"/>
<rect x="543.5" y="535.3" width="13" height="12" rx="2" fill="#e9a22c"/>
<ellipse cx="550.0" cy="541.3" rx="3.1" ry="3.6" fill="#0a0a0a"/>
<rect x="557.8" y="535.3" width="13" height="12" rx="2" fill="#e9a22c"/>
<ellipse cx="564.3" cy="541.3" rx="3.1" ry="3.6" fill="#0a0a0a"/>
<line x1="515.0" y1="0" x2="515.0" y2="121.2" stroke="#0d0d0d" stroke-width="3.2"/>
<line x1="529.0" y1="0" x2="529.0" y2="121.2" stroke="#0d0d0d" stroke-width="3.5"/>
<polygon points="506.5,119.2 536.5,119.2 540.0,129.2 539.0,137.2 531.5,157.5 511.5,157.5 504.0,137.2 503.0,129.2" fill="#e8462c" stroke="#e8462c" stroke-width="3.2" stroke-linejoin="round"/>
<clipPath id="hk521"><polygon points="508.0,121.4 535.0,121.4 537.8,129.7 536.8,136.7 530.1,155.3 512.9,155.3 506.2,136.7 505.2,129.7"/></clipPath>
<polygon points="508.0,121.4 535.0,121.4 537.8,129.7 536.8,136.7 530.1,155.3 512.9,155.3 506.2,136.7 505.2,129.7" fill="#0a0a0a" stroke="#0a0a0a" stroke-width="1.2" stroke-linejoin="round"/>
<polygon points="497.0,151.7 541.8,111.8 538.0,107.5 493.2,147.4" fill="#e0302a" clip-path="url(#hk521)"/>
<polygon points="505.0,166.3 549.7,126.3 545.8,122.0 501.1,162.0" fill="#e0302a" clip-path="url(#hk521)"/>
<path d="M517.5,157.5 L525.8,157.5 C525.8,163.5 523.5,166.5 519.5,170.5 C516.5,173.5 517.5,179.5 522.5,180.0 C526.5,180.5 529.5,177.5 532.5,172.5 L533.0,178.5 C531.5,185.5 525.5,188.5 519.5,188.5 C511.5,188.5 507.5,183.5 507.5,177.5 C507.5,169.5 516.5,166.5 517.5,161.5 Z" fill="#0a0a0a"/>
<line x1="520" y1="185" x2="325" y2="305" stroke="#0d0d0d" stroke-width="2.9"/>
<line x1="520" y1="185" x2="548" y2="262" stroke="#0d0d0d" stroke-width="2.9"/>
<line x1="520" y1="185" x2="563" y2="262" stroke="#0d0d0d" stroke-width="2.9"/>
<line x1="520" y1="185" x2="735.7" y2="278.6" stroke="#0d0d0d" stroke-width="2.9"/>
<polygon points="11.4,387.1 255.5,339.0 256.0,660.0 13.1,575.6" fill="#aa1c23" />
<polygon points="14.3,389.4 14.8,389.3 16.5,573.9 16.0,573.7" fill="#e02426" />
<polygon points="14.8,389.3 15.6,389.1 17.3,574.2 16.5,573.9" fill="#ef5a2a" />
<polygon points="15.6,389.1 18.4,388.6 20.0,575.1 17.3,574.2" fill="#e02426" />
<polygon points="21.8,388.0 22.3,387.9 23.9,576.4 23.4,576.3" fill="#e02426" />
<polygon points="22.3,387.9 23.1,387.7 24.7,576.7 23.9,576.4" fill="#ef5a2a" />
<polygon points="23.1,387.7 26.0,387.2 27.6,577.7 24.7,576.7" fill="#e02426" />
<polygon points="29.5,386.5 30.1,386.4 31.6,579.1 31.1,578.9" fill="#e02426" />
<polygon points="30.1,386.4 31.0,386.2 32.5,579.4 31.6,579.1" fill="#ef5a2a" />
<polygon points="31.0,386.2 33.9,385.7 35.5,580.4 32.5,579.4" fill="#e02426" />
<polygon points="37.6,385.0 38.2,384.9 39.7,581.8 39.2,581.6" fill="#e02426" />
<polygon points="38.2,384.9 39.1,384.7 40.6,582.1 39.7,581.8" fill="#ef5a2a" />
<polygon points="39.1,384.7 42.2,384.1 43.7,583.2 40.6,582.1" fill="#e02426" />
<polygon points="46.1,383.4 46.7,383.3 48.2,584.7 47.6,584.5" fill="#e02426" />
<polygon points="46.7,383.3 47.7,383.1 49.2,585.0 48.2,584.7" fill="#ef5a2a" />
<polygon points="47.7,383.1 50.9,382.5 52.4,586.1 49.2,585.0" fill="#e02426" />
<polygon points="55.0,381.7 55.6,381.6 57.1,587.7 56.4,587.5" fill="#e02426" />
<polygon points="55.6,381.6 56.6,381.4 58.1,588.0 57.1,587.7" fill="#ef5a2a" />
<polygon points="56.6,381.4 60.0,380.7 61.5,589.2 58.1,588.0" fill="#e02426" />
<polygon points="64.3,379.9 64.9,379.8 66.3,590.8 65.7,590.6" fill="#e02426" />
<polygon points="64.9,379.8 66.0,379.6 67.4,591.2 66.3,590.8" fill="#ef5a2a" />
<polygon points="66.0,379.6 69.6,378.9 70.9,592.4 67.4,591.2" fill="#e02426" />
<polygon points="74.0,378.1 74.7,378.0 76.1,594.1 75.4,593.9" fill="#e02426" />
<polygon points="74.7,378.0 75.8,377.8 77.2,594.5 76.1,594.1" fill="#ef5a2a" />
<polygon points="75.8,377.8 79.6,377.1 80.9,595.8 77.2,594.5" fill="#e02426" />
<polygon points="84.2,376.2 85.0,376.0 86.3,597.6 85.6,597.4" fill="#e02426" />
<polygon points="85.0,376.0 86.1,375.8 87.4,598.0 86.3,597.6" fill="#ef5a2a" />
<polygon points="86.1,375.8 90.1,375.1 91.4,599.3 87.4,598.0" fill="#e02426" />
<polygon points="95.0,374.1 95.8,374.0 97.0,601.3 96.3,601.0" fill="#e02426" />
<polygon points="95.8,374.0 97.0,373.8 98.2,601.7 97.0,601.3" fill="#ef5a2a" />
<polygon points="97.0,373.8 101.2,373.0 102.4,603.1 98.2,601.7" fill="#e02426" />
<polygon points="106.3,372.0 107.1,371.8 108.3,605.1 107.5,604.8" fill="#e02426" />
<polygon points="107.1,371.8 108.4,371.6 109.6,605.5 108.3,605.1" fill="#ef5a2a" />
<polygon points="108.4,371.6 112.8,370.8 114.0,607.0 109.6,605.5" fill="#e02426" />
<polygon points="118.3,369.7 119.1,369.6 120.3,609.1 119.4,608.8" fill="#e02426" />
<polygon points="119.1,369.6 120.5,369.3 121.6,609.6 120.3,609.1" fill="#ef5a2a" />
<polygon points="120.5,369.3 125.1,368.5 126.2,611.2 121.6,609.6" fill="#e02426" />
<polygon points="130.9,367.4 131.8,367.2 132.8,613.4 131.9,613.1" fill="#e02426" />
<polygon points="131.8,367.2 133.2,366.9 134.3,613.9 132.8,613.4" fill="#ef5a2a" />
<polygon points="133.2,366.9 138.1,366.0 139.1,615.5 134.3,613.9" fill="#e02426" />
<polygon points="144.2,364.8 145.1,364.7 146.1,617.9 145.2,617.6" fill="#e02426" />
<polygon points="145.1,364.7 146.6,364.4 147.7,618.4 146.1,617.9" fill="#ef5a2a" />
<polygon points="146.6,364.4 151.8,363.4 152.8,620.2 147.7,618.4" fill="#e02426" />
<polygon points="158.3,362.2 159.3,362.0 160.2,622.7 159.2,622.4" fill="#e02426" />
<polygon points="159.3,362.0 160.9,361.7 161.8,623.2 160.2,622.7" fill="#ef5a2a" />
<polygon points="160.9,361.7 166.4,360.7 167.3,625.1 161.8,623.2" fill="#e02426" />
<polygon points="173.2,359.4 174.3,359.2 175.2,627.8 174.1,627.4" fill="#e02426" />
<polygon points="174.3,359.2 176.0,358.8 176.9,628.3 175.2,627.8" fill="#ef5a2a" />
<polygon points="176.0,358.8 181.8,357.7 182.7,630.3 176.9,628.3" fill="#e02426" />
<polygon points="189.1,356.4 190.2,356.1 191.0,633.1 189.9,632.8" fill="#e02426" />
<polygon points="190.2,356.1 192.1,355.8 192.8,633.8 191.0,633.1" fill="#ef5a2a" />
<polygon points="192.1,355.8 198.3,354.6 199.0,635.9 192.8,633.8" fill="#e02426" />
<polygon points="206.0,353.2 207.2,352.9 207.9,638.9 206.7,638.5" fill="#e02426" />
<polygon points="207.2,352.9 209.2,352.6 209.9,639.5 207.9,638.9" fill="#ef5a2a" />
<polygon points="209.2,352.6 215.8,351.3 216.4,641.8 209.9,639.5" fill="#e02426" />
<polygon points="224.0,349.8 225.3,349.5 226.0,645.0 224.7,644.6" fill="#e02426" />
<polygon points="225.3,349.5 227.4,349.1 228.0,645.7 226.0,645.0" fill="#ef5a2a" />
<polygon points="227.4,349.1 234.5,347.8 235.0,648.1 228.0,645.7" fill="#e02426" />
<polygon points="243.3,346.1 244.7,345.9 245.2,651.5 243.8,651.1" fill="#e02426" />
<polygon points="244.7,345.9 246.9,345.4 247.4,652.3 245.2,651.5" fill="#ef5a2a" />
<polygon points="246.9,345.4 254.5,344.0 255.0,654.8 247.4,652.3" fill="#e02426" />
<polygon points="11.4,387.1 95.0,372.0 254.0,657.0 13.1,575.6" fill="#3b100d" />
<clipPath id="sh11"><polygon points="11.4,387.1 95.0,372.0 254.0,657.0 13.1,575.6"/></clipPath>
<polygon points="12.1,389.8 14.7,389.3 16.3,573.9 13.8,573.0" fill="#4b1712" clip-path="url(#sh11)"/>
<polygon points="19.5,388.4 22.1,387.9 23.7,576.4 21.1,575.5" fill="#4b1712" clip-path="url(#sh11)"/>
<polygon points="27.2,387.0 29.9,386.4 31.5,579.0 28.7,578.1" fill="#4b1712" clip-path="url(#sh11)"/>
<polygon points="35.2,385.4 38.0,384.9 39.6,581.8 36.7,580.8" fill="#4b1712" clip-path="url(#sh11)"/>
<polygon points="43.5,383.9 46.5,383.3 48.0,584.6 45.0,583.6" fill="#4b1712" clip-path="url(#sh11)"/>
<polygon points="52.3,382.2 55.4,381.6 56.9,587.6 53.7,586.6" fill="#4b1712" clip-path="url(#sh11)"/>
<polygon points="61.4,380.5 64.7,379.9 66.1,590.8 62.8,589.7" fill="#4b1712" clip-path="url(#sh11)"/>
<polygon points="71.0,378.7 74.5,378.0 75.9,594.1 72.4,592.9" fill="#4b1712" clip-path="url(#sh11)"/>
<polygon points="81.1,376.8 84.8,376.1 86.1,597.5 82.4,596.3" fill="#4b1712" clip-path="url(#sh11)"/>
<polygon points="91.7,374.8 95.6,374.0 96.8,601.2 93.0,599.9" fill="#4b1712" clip-path="url(#sh11)"/>
<polygon points="102.9,372.7 106.9,371.9 108.1,605.0 104.1,603.6" fill="#4b1712" clip-path="url(#sh11)"/>
<polygon points="114.6,370.4 118.9,369.6 120.0,609.1 115.8,607.6" fill="#4b1712" clip-path="url(#sh11)"/>
<polygon points="127.0,368.1 131.5,367.2 132.6,613.3 128.1,611.8" fill="#4b1712" clip-path="url(#sh11)"/>
<polygon points="140.1,365.6 144.9,364.7 145.9,617.8 141.1,616.2" fill="#4b1712" clip-path="url(#sh11)"/>
<polygon points="153.9,363.0 159.0,362.0 159.9,622.6 154.9,620.9" fill="#4b1712" clip-path="url(#sh11)"/>
<polygon points="168.6,360.2 174.0,359.2 174.9,627.7 169.5,625.9" fill="#4b1712" clip-path="url(#sh11)"/>
<polygon points="184.2,357.3 189.9,356.2 190.7,633.0 185.1,631.1" fill="#4b1712" clip-path="url(#sh11)"/>
<polygon points="200.8,354.1 206.9,353.0 207.6,638.8 201.6,636.7" fill="#4b1712" clip-path="url(#sh11)"/>
<polygon points="218.5,350.8 225.0,349.6 225.6,644.9 219.2,642.7" fill="#4b1712" clip-path="url(#sh11)"/>
<polygon points="237.4,347.2 244.3,345.9 244.8,651.4 237.9,649.1" fill="#4b1712" clip-path="url(#sh11)"/>
<polygon points="13.1,563 256,640 256,660 13.1,575.6" fill="#000" opacity="0.18"/>
<polygon points="255.5,339.0 476.0,354.5 473.5,629.0 256.0,660.0" fill="#a91d25" />
<polygon points="255.5,339.0 270.1,340.0 270.4,658.0 256.0,660.0" fill="#e02426" />
<polygon points="255.5,345.4 259.5,345.7 259.9,656.2 256.0,656.8" fill="#ad1c22" />
<polygon points="270.1,355.9 272.7,356.1 273.0,641.7 270.3,642.1" fill="#3e0f10" />
<polygon points="463.9,353.6 476.0,354.5 473.5,629.0 461.5,630.7" fill="#a91d25" />
<polygon points="463.8,367.5 466.6,367.7 464.5,611.0 461.7,611.3" fill="#3e0f10" />
<polygon points="272.7,352.9 463.8,364.7 463.7,372.5 272.7,361.8" fill="#3e0f10" />
<polygon points="272.9,627.4 461.8,604.4 461.7,607.2 272.9,630.6" fill="#3e0f10" />
<polygon points="256.0,637.5 473.7,609.8 473.5,629.0 256.0,660.0" fill="#a91d25" />
<polygon points="280.9,392.2 371.1,395.5 371.1,399.2 280.9,396.1" fill="#3e0f10" />
<polygon points="280.9,396.1 371.1,399.2 371.0,409.3 280.9,406.9" fill="#8a151b" />
<polygon points="280.9,407.9 371.0,410.2 371.0,413.9 280.9,411.8" fill="#e3262a" />
<polygon points="280.9,483.5 370.8,481.2 370.8,484.8 280.9,487.2" fill="#3e0f10" />
<polygon points="280.9,487.2 370.8,484.8 370.7,494.5 280.9,497.7" fill="#8a151b" />
<polygon points="280.9,498.6 370.7,495.4 370.7,499.0 280.9,502.4" fill="#e3262a" />
<polygon points="281.0,568.7 370.5,561.3 370.5,564.8 281.0,572.5" fill="#3e0f10" />
<polygon points="281.0,572.5 370.5,564.8 370.4,574.6 281.0,582.9" fill="#8a151b" />
<polygon points="281.0,583.8 370.4,575.5 370.4,579.1 281.0,587.6" fill="#e3262a" />
<polygon points="382.1,395.9 454.7,398.5 454.7,401.9 382.1,399.5" fill="#3e0f10" />
<polygon points="382.1,399.5 454.7,401.9 454.6,411.5 382.0,409.6" fill="#8a151b" />
<polygon points="382.0,410.5 454.6,412.3 454.6,415.8 382.0,414.1" fill="#e3262a" />
<polygon points="381.7,480.9 454.1,479.1 454.0,482.4 381.7,484.5" fill="#3e0f10" />
<polygon points="381.7,484.5 454.0,482.4 454.0,491.6 381.7,494.2" fill="#8a151b" />
<polygon points="381.7,495.0 453.9,492.5 453.9,495.8 381.7,498.6" fill="#e3262a" />
<polygon points="381.4,560.4 453.5,554.4 453.4,557.8 381.4,563.9" fill="#3e0f10" />
<polygon points="381.4,563.9 453.4,557.8 453.4,567.0 381.3,573.6" fill="#8a151b" />
<polygon points="381.3,574.5 453.3,567.8 453.3,571.1 381.3,578.0" fill="#e3262a" />
<polygon points="373.6,367.4 375.8,367.6 374.9,615.0 372.7,615.3" fill="#3e0f10" />
<polygon points="377.1,367.6 378.5,367.7 377.5,614.7 376.2,614.8" fill="#3e0f10" />
<polygon points="317.0,364.9 319.1,365.0 318.8,621.8 316.7,622.1" fill="#3e0f10" opacity="0.55"/>
<polygon points="319.1,357.3 322.4,357.5 322.0,627.6 318.8,628.0" fill="#f5a524" />
<polygon points="313.7,367.8 321.6,368.2 321.6,382.0 313.7,381.7" fill="#f6a520" />
<polygon points="313.5,610.1 321.3,609.2 321.3,621.5 313.4,622.5" fill="#f6a520" />
<polygon points="317.9,501.9 323.2,501.7 323.2,506.3 317.9,506.5" fill="#e3262a" />
<polygon points="297.6,555.1 321.6,553.3 321.6,556.1 297.6,557.9" fill="#f5a524" />
<polygon points="305.2,549.9 307.8,549.7 307.8,562.1 305.2,562.3" fill="#e3262a" />
<polygon points="357.3,367.1 359.4,367.2 358.6,617.0 356.6,617.2" fill="#3e0f10" opacity="0.55"/>
<polygon points="359.4,359.8 362.7,360.0 361.9,622.5 358.6,623.0" fill="#f5a524" />
<polygon points="354.0,369.9 361.9,370.4 361.9,383.8 354.0,383.5" fill="#f6a520" />
<polygon points="353.3,605.6 361.2,604.7 361.1,616.7 353.3,617.6" fill="#f6a520" />
<polygon points="358.0,500.4 363.3,500.2 363.2,504.6 358.0,504.9" fill="#e3262a" />
<polygon points="337.5,552.2 361.6,550.4 361.6,553.1 337.5,554.9" fill="#f5a524" />
<polygon points="345.2,547.1 347.8,546.9 347.8,558.9 345.2,559.1" fill="#e3262a" />
<polygon points="387.5,368.8 389.6,368.9 388.5,613.3 386.4,613.6" fill="#3e0f10" opacity="0.55"/>
<polygon points="389.6,361.6 392.9,361.8 391.7,618.8 388.4,619.2" fill="#f5a524" />
<polygon points="384.2,371.6 392.1,372.0 392.0,385.1 384.1,384.8" fill="#f6a520" />
<polygon points="383.2,602.2 391.0,601.3 391.0,613.0 383.1,614.0" fill="#f6a520" />
<polygon points="388.0,499.2 393.3,499.0 393.2,503.4 388.0,503.6" fill="#e3262a" />
<polygon points="367.5,549.9 391.5,548.1 391.5,550.8 367.5,552.6" fill="#f5a524" />
<polygon points="375.1,544.9 377.8,544.7 377.7,556.5 375.1,556.8" fill="#e3262a" />
<polygon points="424.5,370.9 426.6,371.0 425.1,608.9 423.0,609.1" fill="#3e0f10" opacity="0.55"/>
<polygon points="426.6,363.9 429.9,364.1 428.3,614.1 425.0,614.6" fill="#f5a524" />
<polygon points="421.2,373.5 429.1,374.0 429.0,386.8 421.1,386.4" fill="#f6a520" />
<polygon points="419.8,598.1 427.6,597.2 427.6,608.6 419.7,609.5" fill="#f6a520" />
<polygon points="424.8,497.8 430.0,497.6 430.0,501.9 424.8,502.1" fill="#e3262a" />
<polygon points="404.2,547.2 428.2,545.4 428.2,548.0 404.2,549.8" fill="#f5a524" />
<polygon points="411.8,542.3 414.5,542.1 414.4,553.6 411.8,553.8" fill="#e3262a" />
<polygon points="56.0,578.6 67.3,581.0 67.3,588.0 56.0,585.6" fill="#0b0b0b" />
<polygon points="76.8,584.5 88.1,587.5 88.1,595.2 76.8,592.2" fill="#0b0b0b" />
<polygon points="141.0,605.0 154.0,609.0 154.0,617.0 141.0,613.0" fill="#0b0b0b" />
<polygon points="165.5,611.0 181.6,616.0 181.6,625.0 165.5,620.0" fill="#0b0b0b" />
<rect x="254.4" y="337.1" width="14" height="13" rx="2" fill="#d42326"/>
<ellipse cx="261.4" cy="343.6" rx="3.3" ry="3.9" fill="#0a0a0a"/>
<rect x="270.9" y="336.7" width="14" height="13" rx="2" fill="#d42326"/>
<ellipse cx="277.9" cy="343.2" rx="3.3" ry="3.9" fill="#0a0a0a"/>
<rect x="463.0" y="354.9" width="14" height="13" rx="2" fill="#a91d25"/>
<ellipse cx="470.0" cy="361.4" rx="3.3" ry="3.9" fill="#0a0a0a"/>
<rect x="462.6" y="615.9" width="14" height="13" rx="2" fill="#a91d25"/>
<ellipse cx="469.6" cy="622.4" rx="3.3" ry="3.9" fill="#0a0a0a"/>
<rect x="256.5" y="647.1" width="14" height="13" rx="2" fill="#d42326"/>
<ellipse cx="263.5" cy="653.6" rx="3.3" ry="3.9" fill="#0a0a0a"/>
<rect x="272.5" y="647.7" width="14" height="13" rx="2" fill="#d42326"/>
<ellipse cx="279.5" cy="654.2" rx="3.3" ry="3.9" fill="#0a0a0a"/>
<line x1="225.0" y1="0" x2="225.0" y2="185.3" stroke="#0d0d0d" stroke-width="3.4"/>
<line x1="240.1" y1="0" x2="240.1" y2="185.3" stroke="#0d0d0d" stroke-width="3.8"/>
<polygon points="215.9,183.3 248.1,183.3 251.9,194.1 250.8,202.7 242.8,224.5 221.2,224.5 213.2,202.7 212.1,194.1" fill="#e8462c" stroke="#e8462c" stroke-width="3.4" stroke-linejoin="round"/>
<clipPath id="hk232"><polygon points="217.5,185.7 246.5,185.7 249.5,194.6 248.5,202.1 241.2,222.1 222.8,222.1 215.5,202.1 214.5,194.6"/></clipPath>
<polygon points="217.5,185.7 246.5,185.7 249.5,194.6 248.5,202.1 241.2,222.1 222.8,222.1 215.5,202.1 214.5,194.6" fill="#0a0a0a" stroke="#0a0a0a" stroke-width="1.3" stroke-linejoin="round"/>
<polygon points="205.7,218.2 253.9,175.4 249.7,170.7 201.5,213.6" fill="#e0302a" clip-path="url(#hk232)"/>
<polygon points="214.3,234.0 262.3,190.9 258.1,186.3 210.1,229.3" fill="#e0302a" clip-path="url(#hk232)"/>
<path d="M227.2,224.5 L237.2,224.5 C237.2,231.7 234.4,235.3 229.6,240.1 C226.0,243.7 227.2,250.9 233.2,251.5 C238.0,252.1 241.6,248.5 245.2,242.5 L245.8,249.7 C244.0,258.1 236.8,261.7 229.6,261.7 C220.0,261.7 215.2,255.7 215.2,248.5 C215.2,238.9 226.0,235.3 227.2,229.3 Z" fill="#0a0a0a"/>
<line x1="230" y1="259" x2="12" y2="388" stroke="#0d0d0d" stroke-width="2.9"/>
<line x1="230" y1="259" x2="261.4" y2="343" stroke="#0d0d0d" stroke-width="2.9"/>
<line x1="230" y1="259" x2="277.9" y2="343" stroke="#0d0d0d" stroke-width="2.9"/>
<line x1="230" y1="259" x2="470" y2="361.4" stroke="#0d0d0d" stroke-width="2.9"/></svg>

<div class="badge" style="left:28px;top:90px;width:121.5px;height:18.5px;border-radius:9px;background:#f39f22"></div>
<svg class="a" style="left:0;top:0" width="1000" height="700" viewBox="0 0 1000 700"><text x="43.6" y="104.3" textLength="95" lengthAdjust="spacingAndGlyphs" font-family="&quot;DejaVu Serif Condensed&quot;, &quot;DejaVu Serif&quot;, &quot;Liberation Serif&quot;, serif" font-weight="bold" font-size="14.4" fill="#1a1208">Infographics</text><text x="271" y="524.6" textLength="654" lengthAdjust="spacingAndGlyphs" font-family="Liberation Sans, sans-serif" font-weight="bold" font-size="60" fill="#fff" stroke="#ffffff" stroke-width="4.5" stroke-linejoin="round">Xuất nhập khẩu 7 tháng đầu năm</text><text x="271" y="524.6" textLength="654" lengthAdjust="spacingAndGlyphs" font-family="Liberation Sans, sans-serif" font-weight="bold" font-size="60" fill="#3b3b3d" stroke="#3b3b3d" stroke-width="1.8" stroke-linejoin="round">Xuất nhập khẩu 7 tháng đầu năm</text><text x="481.5" y="596.6" textLength="515" lengthAdjust="spacingAndGlyphs" font-family="&quot;DejaVu Serif Condensed&quot;, &quot;DejaVu Serif&quot;, &quot;Liberation Serif&quot;, serif" font-size="34.7" fill="#a3202a" stroke="#a3202a" stroke-width="1.4">Duy trì tốc độ tăng trưởng cao</text></svg>
<div class="badge" style="left:36.4px;top:708.1px;width:500.6px;height:32.9px;border-radius:9px"></div>
<svg class="a" style="left:0;top:700.7px" width="1000" height="40" viewBox="0 700.7 1000 40"><text x="49" y="730.7" textLength="471.5" lengthAdjust="spacingAndGlyphs" font-family="'DejaVu Serif Condensed', 'DejaVu Serif', 'Liberation Serif', serif" font-weight="bold" font-size="18.3" fill="#1a1208">Xuất - nhập khẩu 7 tháng đầu năm qua các năm</text></svg>
<svg class="a" style="left:0;top:743.4px" width="1000" height="26" viewBox="0 743.4 1000 26"><text x="428.6" y="763.4" textLength="91.4" lengthAdjust="spacingAndGlyphs" font-family="Liberation Sans, sans-serif" font-style="italic" font-size="12.5" fill="#222">(đơn vị: tỷ USD)</text></svg>
<div class="pill r" style="left:49.2px;top:770.8px;width:39.6px;height:14px;border-radius:7px"></div>
<div class="pill g" style="left:49.2px;top:803px;width:39.6px;height:14px;border-radius:7px"></div>
<div class="bar r" style="left:48.4px;top:1077.6px;width:35.9px;height:161.0px"></div>
<div class="bar g" style="left:84.3px;top:1075.8px;width:36.9px;height:162.8px"></div>
<div class="bar r" style="left:149.9px;top:1053.7px;width:35.9px;height:184.9px"></div>
<div class="bar g" style="left:185.8px;top:1056.6px;width:36.9px;height:182.0px"></div>
<div class="bar r" style="left:251.4px;top:1034.2px;width:35.9px;height:204.4px"></div>
<div class="bar g" style="left:287.3px;top:1026.9px;width:36.9px;height:211.7px"></div>
<div class="bar r" style="left:352.9px;top:1024.2px;width:35.9px;height:214.4px"></div>
<div class="bar g" style="left:388.8px;top:1028.2px;width:36.9px;height:210.4px"></div>
<div class="bar r" style="left:454.4px;top:983.5px;width:35.9px;height:255.1px"></div>
<div class="bar g" style="left:490.3px;top:976.6px;width:36.9px;height:262.0px"></div>
<div class="bar r" style="left:555.9px;top:942.7px;width:35.9px;height:295.9px"></div>
<div class="bar g" style="left:591.8px;top:949.4px;width:36.9px;height:289.2px"></div>
<div class="bar r" style="left:657.4px;top:917.3px;width:35.9px;height:321.3px"></div>
<div class="bar g" style="left:693.3px;top:921.3px;width:36.9px;height:317.3px"></div>
<div class="bar r" style="left:758.9px;top:915.7px;width:35.9px;height:322.9px"></div>
<div class="bar g" style="left:794.8px;top:930.1px;width:36.9px;height:308.5px"></div>
<div class="bar r" style="left:860.4px;top:828.3px;width:35.9px;height:410.3px"></div>
<div class="bar g" style="left:896.3px;top:822.3px;width:36.9px;height:416.3px"></div>
<div class="badge" style="left:29.2px;top:1327px;width:500.8px;height:32.5px;border-radius:9px"></div>
<svg class="a" style="left:0;top:1321px" width="1000" height="40" viewBox="0 1321 1000 40"><text x="41.7" y="1351" textLength="480.4" lengthAdjust="spacingAndGlyphs" font-family="'DejaVu Serif Condensed', 'DejaVu Serif', 'Liberation Serif', serif" font-weight="bold" font-size="18.3" fill="#1a1208">Các thị trường xuất - nhập khẩu lớn nhất của Việt Nam</text></svg>
<svg class="a" style="left:0;top:1368px" width="1000" height="26" viewBox="0 1368 1000 26"><text x="507" y="1388" textLength="77.0" lengthAdjust="spacingAndGlyphs" font-family="Liberation Sans, sans-serif" font-style="italic" font-size="12.5" fill="#222">(đơn vị: USD)</text></svg>
<svg class="a" style="left:0;top:1390px" width="1000" height="450" viewBox="0 1390 1000 450"><polygon points="89.3,1485.7 94.3,1483.6 102.9,1483.6 97.1,1478.6 92.9,1475.0 98.6,1469.3 105.7,1466.4 114.3,1464.3 122.9,1467.1 134.3,1467.9 144.3,1469.3 154.3,1471.4 160.0,1473.6 165.7,1472.1 177.1,1470.7 188.6,1470.0 200.0,1470.7 210.4,1476.9 232.6,1479.0 246.8,1474.9 256.9,1476.9 265.0,1481.0 273.1,1485.0 281.2,1487.0 293.4,1489.1 300.0,1492.0 308.6,1500.0 322.9,1507.0 337.0,1521.4 347.9,1534.0 355.0,1543.0 344.3,1546.4 336.0,1543.0 330.0,1540.0 322.0,1538.5 314.0,1539.0 318.0,1544.0 326.0,1546.0 333.8,1548.6 342.0,1550.6 333.0,1552.0 325.7,1552.6 317.6,1558.7 311.6,1562.8 305.5,1566.8 301.5,1574.9 299.4,1581.0 293.4,1587.0 290.3,1592.0 290.5,1597.0 289.8,1605.0 287.0,1603.0 285.4,1598.0 280.0,1597.0 269.3,1595.2 258.6,1594.3 251.4,1597.9 251.4,1608.6 255.0,1615.7 262.1,1621.1 269.3,1624.6 272.9,1622.9 269.3,1613.9 275.0,1614.0 276.0,1620.0 280.0,1630.0 287.1,1635.4 294.3,1640.7 301.4,1644.3 303.0,1649.6 294.3,1647.9 287.1,1646.1 280.0,1644.3 272.9,1640.7 263.9,1637.1 255.0,1632.7 247.9,1628.2 240.7,1622.9 233.6,1615.7 226.4,1608.6 219.3,1601.4 211.3,1594.3 205.0,1587.1 197.9,1578.2 190.7,1565.7 187.1,1553.2 182.9,1538.6 177.1,1531.4 171.4,1525.7 167.1,1520.0 162.9,1514.3 157.1,1510.0 151.4,1507.1 144.3,1505.0 137.1,1503.6 131.4,1505.7 127.1,1504.3 122.9,1510.0 115.7,1515.7 105.7,1520.0 91.4,1527.1 101.4,1521.4 111.4,1517.1 117.1,1512.9 112.9,1510.0 105.7,1508.6 97.1,1505.7 93.6,1500.0 97.1,1494.3 102.9,1490.0 92.9,1489.3" fill="#263573"/>
<polygon points="212.1,1590.7 214.0,1591.0 223.8,1609.0 222.9,1611.0 213.0,1595.0" fill="#263573"/>
<polygon points="256.8,1492.0 258.6,1507.0 272.9,1517.9 287.0,1523.0 290.7,1532.0 294.0,1534.0 297.9,1517.9 301.4,1507.0 294.0,1496.4 280.0,1491.0 268.0,1487.0" fill="#ffffff"/>
<polygon points="246.8,1527.0 249.5,1526.3 252.9,1535.0 251.0,1537.4 248.0,1532.0" fill="#ffffff"/>
<polygon points="265.7,1547.0 272.9,1543.4 280.0,1544.3 278.2,1547.9 271.1,1549.6" fill="#ffffff"/>
<polygon points="272.9,1549.6 275.5,1549.6 277.3,1562.1 274.5,1561.0" fill="#ffffff"/>
<polygon points="283.6,1551.4 289.0,1552.0 290.7,1558.6 285.0,1557.0" fill="#ffffff"/>
<polygon points="287.0,1560.0 294.0,1557.5 299.6,1556.8 296.0,1560.5 289.0,1561.5" fill="#ffffff"/>
<polygon points="267.0,1413.2 281.2,1409.1 301.5,1407.0 321.7,1407.0 333.8,1409.1 329.8,1413.2 321.7,1415.2 311.6,1422.3 305.5,1430.4 297.4,1434.4 289.3,1435.4 281.2,1430.4 275.1,1422.3 269.0,1418.2" fill="#263573"/>
<polygon points="254.9,1420.2 265.0,1417.2 275.1,1424.3 281.2,1432.4 293.4,1440.5 289.3,1446.6 269.0,1444.5 261.0,1436.4 254.9,1426.3" fill="#263573"/>
<polygon points="232.0,1427.0 242.0,1426.5 249.0,1430.0 247.0,1435.0 236.0,1435.0 231.0,1432.0" fill="#263573"/>
<polygon points="194.2,1440.5 206.3,1436.4 216.4,1438.5 226.6,1440.5 232.6,1443.5 228.6,1447.6 214.4,1448.6 200.2,1445.5" fill="#263573"/>
<polygon points="188.1,1452.6 200.2,1450.6 206.3,1454.7 202.3,1460.7 192.1,1460.7 187.1,1457.7" fill="#263573"/>
<polygon points="202.3,1458.7 220.5,1455.7 232.6,1454.7 238.7,1460.7 240.7,1468.8 232.6,1474.9 220.5,1474.9 210.4,1468.8 204.3,1464.8" fill="#263573"/>
<polygon points="250.9,1452.6 265.0,1451.6 267.0,1460.7 261.0,1466.8 252.9,1464.8" fill="#263573"/>
<polygon points="271.1,1454.7 287.3,1453.6 301.5,1458.7 313.6,1466.8 325.7,1474.9 333.8,1483.0 329.8,1489.1 319.7,1489.1 309.6,1483.0 299.4,1476.9 287.3,1468.8 275.1,1464.8 271.1,1460.7" fill="#263573"/>
<polygon points="242.0,1466.0 250.0,1465.0 254.0,1472.0 246.0,1474.0" fill="#263573"/>
<polygon points="310.7,1425.4 321.4,1416.4 343.0,1411.0 371.4,1407.5 400.0,1409.3 425.0,1411.0 446.4,1412.9 439.3,1420.0 432.0,1430.7 435.7,1441.4 425.0,1455.7 417.9,1470.0 403.6,1484.3 385.7,1498.6 371.4,1504.0 360.7,1498.6 353.6,1484.3 350.0,1466.4 339.3,1448.6 325.0,1438.0 310.7,1430.7" fill="#263573"/>
<polygon points="423.0,1488.0 430.0,1485.5 440.0,1486.0 445.0,1489.0 441.0,1493.0 430.0,1494.0 424.0,1492.0" fill="#263573"/>
<polygon points="503.6,1426.0 510.0,1424.0 516.0,1426.0 522.0,1424.5 530.0,1424.0 537.6,1426.5 533.0,1430.0 526.0,1433.0 520.0,1435.7 514.0,1432.0 507.0,1431.0" fill="#263573"/>
<polygon points="597.9,1461.9 603.1,1454.0 616.2,1446.2 626.7,1441.0 637.1,1437.8 634.5,1441.0 621.4,1446.2 608.3,1454.0 601.8,1463.2" fill="#263573"/>
<polygon points="491.0,1514.3 490.5,1509.0 495.7,1496.0 506.2,1485.5 516.7,1472.4 527.1,1468.5 540.2,1467.1 553.3,1469.8 563.8,1475.0 569.0,1480.2 571.7,1485.5 579.5,1477.6 590.0,1473.7 603.1,1469.8 613.6,1468.5 626.7,1467.1 634.5,1461.9 637.1,1456.7 642.4,1458.0 645.0,1469.8 647.6,1480.2 650.2,1472.4 652.9,1461.9 660.7,1459.3 666.0,1454.0 679.0,1448.8 689.5,1444.9 700.0,1442.3 711.4,1437.9 722.0,1436.0 729.0,1445.0 740.0,1454.0 755.7,1456.3 768.8,1455.0 779.3,1459.0 792.4,1456.3 805.5,1459.0 818.6,1461.5 831.7,1460.0 844.8,1464.2 857.9,1468.0 871.0,1470.7 886.7,1476.0 902.4,1481.2 914.2,1483.8 907.6,1489.0 894.5,1490.4 889.3,1497.0 881.4,1498.2 862.0,1499.0 860.5,1502.0 856.5,1510.0 850.0,1523.1 842.1,1534.9 838.2,1525.7 839.5,1512.6 838.0,1506.0 829.0,1507.4 818.6,1510.0 808.0,1515.2 797.6,1520.5 792.4,1525.7 800.0,1531.0 802.9,1541.4 800.0,1552.0 792.4,1559.8 781.9,1567.6 774.0,1571.0 771.0,1574.0 774.0,1583.3 768.8,1586.0 765.0,1581.0 765.7,1564.3 761.4,1566.4 757.1,1568.6 755.0,1572.9 759.3,1577.0 757.1,1585.7 755.0,1594.3 750.7,1602.9 744.3,1609.3 735.7,1613.6 729.3,1615.7 725.0,1617.9 727.1,1622.0 729.3,1630.7 727.1,1639.3 720.7,1641.4 716.0,1637.0 712.0,1640.0 711.0,1648.0 714.3,1660.0 716.0,1667.0 711.0,1667.0 707.9,1660.7 705.7,1652.0 703.6,1639.3 701.4,1632.9 697.1,1628.6 695.0,1622.0 690.7,1617.9 686.4,1613.6 677.9,1615.7 669.3,1622.0 662.9,1630.7 660.7,1639.3 657.5,1644.6 652.1,1635.0 645.7,1622.0 639.3,1611.4 632.9,1606.0 624.8,1606.7 613.3,1604.8 613.3,1614.3 609.5,1623.8 594.3,1633.3 581.0,1635.2 586.7,1642.9 590.5,1646.7 595.0,1640.0 590.0,1646.7 580.0,1656.7 570.0,1666.7 566.7,1680.0 571.7,1693.3 570.0,1703.3 560.0,1713.3 556.7,1720.0 550.0,1733.3 540.0,1745.0 530.0,1748.3 521.7,1746.7 516.7,1733.3 510.0,1716.7 506.7,1703.3 508.3,1686.7 500.0,1673.3 500.0,1660.0 490.0,1653.3 473.3,1653.3 456.7,1648.3 443.3,1636.7 436.7,1623.3 440.0,1610.0 446.7,1596.7 453.3,1588.0 466.0,1584.0 467.9,1580.4 457.0,1575.0 457.0,1557.0 467.9,1553.6 480.0,1550.0 471.4,1541.0 482.0,1537.5 485.7,1527.0 498.0,1523.0 501.8,1516.0 496.0,1517.0" fill="#263573"/>
<polygon points="466.0,1584.0 472.0,1586.0 480.0,1588.0 490.0,1590.0 504.8,1585.7 518.0,1591.4 529.5,1590.5 542.9,1591.4 552.4,1589.5 558.0,1585.7 560.0,1581.0 556.2,1579.0 550.5,1581.0 542.9,1580.0 537.0,1576.0 537.0,1568.6 533.3,1566.7 529.5,1574.3 523.8,1572.4 518.0,1564.8 510.5,1555.2 506.7,1553.3 508.6,1559.0 516.2,1568.6 518.0,1572.4 516.2,1576.2 512.4,1573.3 508.6,1570.5 502.9,1566.7 497.0,1559.0 491.4,1561.0 487.5,1566.0 483.8,1572.0 478.0,1578.0 470.0,1582.0" fill="#ffffff"/>
<polygon points="542.9,1555.2 546.7,1550.5 556.2,1550.5 562.0,1549.5 565.7,1553.3 572.4,1558.0 569.5,1562.9 562.0,1563.8 552.4,1562.9 544.8,1561.0" fill="#ffffff"/>
<polygon points="586.7,1554.3 594.3,1551.4 600.0,1552.4 596.2,1559.0 601.9,1566.7 600.0,1575.2 594.3,1573.3 591.4,1564.8 588.6,1559.0" fill="#ffffff"/>
<polygon points="554.3,1599.0 558.0,1597.0 563.8,1606.7 569.5,1618.0 577.1,1631.4 581.0,1635.2 579.0,1639.0 573.3,1635.2 565.7,1621.9 560.0,1610.5 555.2,1602.9" fill="#ffffff"/>
<polygon points="590.5,1595.2 592.4,1594.3 598.1,1599.0 605.7,1602.9 613.3,1604.8 613.3,1608.6 609.5,1604.8 601.9,1604.8 596.2,1601.0" fill="#ffffff"/>
<polygon points="532.4,1485.5 528.0,1489.0 523.0,1496.0 520.0,1504.0 517.0,1511.0 512.0,1517.0 507.0,1520.0 510.0,1524.0 518.0,1524.0 528.0,1522.0 539.3,1518.0 538.0,1513.0 546.0,1509.0 540.0,1506.5 532.4,1506.4 529.0,1501.0 531.0,1494.0 535.0,1488.0" fill="#ffffff"/>
<polygon points="556.0,1483.0 562.0,1482.0 569.0,1486.0 566.0,1490.7 559.0,1489.0" fill="#ffffff"/>
<polygon points="611.0,1552.0 614.0,1551.0 615.0,1555.0 612.0,1556.0" fill="#ffffff"/>
<polygon points="465.0,1513.0 472.0,1516.0 475.0,1524.0 479.0,1533.0 472.0,1538.0 462.0,1538.0 466.0,1530.0 463.0,1521.0" fill="#263573"/>
<polygon points="454.0,1525.0 460.0,1523.0 463.0,1529.0 458.0,1534.0 453.0,1531.0" fill="#263573"/>
<polygon points="795.0,1443.0 803.0,1441.5 808.0,1444.0 802.0,1447.0 796.0,1446.5" fill="#263573"/>
<polygon points="810.0,1444.0 816.0,1443.0 823.8,1446.0 818.0,1448.5 811.0,1447.5" fill="#263573"/>
<polygon points="740.0,1437.0 746.0,1436.0 749.0,1439.0 744.0,1441.0" fill="#263573"/>
<polygon points="806.8,1525.7 809.0,1526.0 811.0,1540.0 810.7,1549.3 808.0,1549.0 807.0,1537.0" fill="#263573"/>
<polygon points="800.0,1559.8 806.0,1556.0 810.7,1554.5 814.6,1559.8 809.0,1563.0 805.5,1567.6 804.0,1574.0 800.0,1578.0 792.4,1583.3 781.9,1586.0 779.3,1588.6 784.5,1590.0 795.0,1586.0 808.0,1578.0 810.7,1570.0 808.0,1565.0" fill="#263573"/>
<polygon points="755.0,1604.0 758.0,1603.0 759.0,1609.0 756.0,1610.0" fill="#263573"/>
<polygon points="729.0,1618.0 733.0,1617.0 734.0,1621.0 730.0,1622.0" fill="#263573"/>
<polygon points="662.0,1645.0 665.0,1644.0 666.0,1649.0 663.0,1650.0" fill="#263573"/>
<polygon points="580.0,1700.0 591.7,1695.0 593.3,1703.3 588.3,1720.0 581.7,1725.0 578.3,1716.7" fill="#263573"/>
<polygon points="700.0,1655.0 706.0,1656.0 720.0,1673.3 726.7,1678.3 721.7,1680.0 706.7,1666.7" fill="#263573"/>
<polygon points="723.3,1681.7 746.7,1685.0 745.0,1688.3 721.7,1685.0" fill="#263573"/>
<polygon points="730.0,1660.0 736.7,1653.3 750.0,1650.0 753.3,1656.7 750.0,1670.0 740.0,1673.3 731.7,1670.0" fill="#263573"/>
<polygon points="756.0,1664.0 762.0,1662.0 765.0,1668.0 761.0,1676.0 757.0,1672.0" fill="#263573"/>
<polygon points="757.0,1623.0 763.0,1625.0 768.0,1635.0 770.0,1648.0 765.0,1650.0 760.0,1640.0 756.0,1632.0" fill="#263573"/>
<polygon points="783.3,1666.7 796.7,1670.0 813.3,1676.7 823.3,1686.7 813.3,1688.3 800.0,1683.3 786.7,1675.0" fill="#263573"/>
<polygon points="740.7,1720.0 744.3,1716.4 751.4,1714.3 758.6,1710.7 760.7,1705.7 767.1,1701.4 772.9,1698.6 778.6,1697.1 782.9,1694.3 790.0,1694.3 793.6,1697.1 792.9,1701.4 797.1,1705.0 802.9,1705.7 805.7,1700.0 807.9,1693.6 811.4,1700.0 815.7,1708.6 821.4,1715.7 828.6,1722.9 832.1,1728.6 832.1,1737.1 830.0,1744.3 825.7,1751.4 820.0,1757.1 810.0,1760.0 804.3,1757.1 800.0,1751.4 795.7,1748.6 791.4,1747.1 787.1,1742.9 777.1,1741.4 767.1,1744.3 758.6,1747.1 751.4,1748.6 744.3,1750.0 743.6,1742.9 742.9,1734.3 740.7,1727.1" fill="#263573"/>
<polygon points="814.3,1767.1 820.7,1765.7 818.6,1772.9 815.7,1772.1" fill="#263573"/>
<polygon points="880.0,1750.0 888.3,1760.0 883.3,1765.0 880.0,1758.0" fill="#263573"/>
<polygon points="880.0,1768.3 883.0,1770.0 870.0,1779.0 863.3,1781.7 866.7,1776.7" fill="#263573"/>
<polygon points="281.8,1613.0 292.5,1612.1 301.4,1613.9 305.0,1617.5 296.0,1616.6 285.4,1615.7" fill="#263573"/>
<polygon points="308.6,1619.3 313.0,1618.8 317.5,1621.0 312.0,1622.9" fill="#263573"/>
<polygon points="300.0,1645.0 310.0,1640.0 326.7,1640.0 340.0,1646.7 353.3,1653.3 366.7,1666.7 380.0,1671.7 388.3,1676.7 390.0,1686.7 386.7,1700.0 380.0,1713.3 370.0,1720.0 363.3,1730.0 356.7,1743.3 346.7,1750.0 340.0,1756.7 333.3,1763.3 326.7,1770.0 323.3,1780.0 320.0,1793.3 316.7,1803.3 323.3,1808.3 313.3,1810.0 306.7,1803.3 303.3,1786.7 306.7,1773.3 310.0,1756.7 313.3,1740.0 313.3,1720.0 310.0,1706.7 300.0,1696.7 293.3,1686.7 288.3,1676.7 290.0,1666.7 293.3,1656.7" fill="#263573"/></svg>

<svg class="a" style="left:0;top:1390px" width="1000" height="450" viewBox="0 1390 1000 450"><circle cx="229.8" cy="1583.1" r="7.6" fill="#e0452c"/><circle cx="229.8" cy="1583.1" r="3.8" fill="#ffffff"/><circle cx="487.5" cy="1550.5" r="7" fill="#e0452c"/><circle cx="487.5" cy="1550.5" r="3.8" fill="#ffffff"/><circle cx="774.2" cy="1577.2" r="5.6" fill="#e0452c"/><circle cx="774.2" cy="1577.2" r="2.8" fill="#ffffff"/><circle cx="732.6" cy="1597.7" r="7.3" fill="#e0452c"/><circle cx="732.6" cy="1597.7" r="3.6" fill="#ffffff"/><circle cx="804.3" cy="1573" r="7.3" fill="#e0452c"/><circle cx="804.3" cy="1573" r="3.6" fill="#ffffff"/><circle cx="755.4" cy="1636.4" r="7.3" fill="#e0452c"/><circle cx="755.4" cy="1636.4" r="3.6" fill="#ffffff"/><text x="150" y="1600" textLength="43" lengthAdjust="spacingAndGlyphs" font-family="'DejaVu Serif Condensed', 'DejaVu Serif', 'Liberation Serif', serif" font-size="12.60" fill="#dc4a30" stroke="#dc4a30" stroke-width="0.5">Hoa Kỳ</text><text x="119" y="1623.8" textLength="93" lengthAdjust="spacingAndGlyphs" font-family="'DejaVu Serif Condensed', 'DejaVu Serif', 'Liberation Serif', serif" font-size="11.25" fill="#575757" stroke="#575757" stroke-width="0.2">Xuất khẩu: 53,7 tỷ</text><text x="119" y="1638.6" textLength="92" lengthAdjust="spacingAndGlyphs" font-family="'DejaVu Serif Condensed', 'DejaVu Serif', 'Liberation Serif', serif" font-size="11.25" fill="#575757" stroke="#575757" stroke-width="0.2">Nhập khẩu: 8,9 tỷ</text><text x="445.5" y="1553.2" textLength="16" lengthAdjust="spacingAndGlyphs" font-family="'DejaVu Serif Condensed', 'DejaVu Serif', 'Liberation Serif', serif" font-size="12.15" fill="#dc4a30" stroke="#dc4a30" stroke-width="0.5">EU</text><text x="359.8" y="1564.8" textLength="94" lengthAdjust="spacingAndGlyphs" font-family="'DejaVu Serif Condensed', 'DejaVu Serif', 'Liberation Serif', serif" font-size="11.25" fill="#575757" stroke="#575757" stroke-width="0.2">Xuất khẩu: 22,6 tỷ</text><text x="359.8" y="1578.2" textLength="90" lengthAdjust="spacingAndGlyphs" font-family="'DejaVu Serif Condensed', 'DejaVu Serif', 'Liberation Serif', serif" font-size="11.25" fill="#575757" stroke="#575757" stroke-width="0.2">Nhập khẩu: 9,7 tỷ</text><text x="708.6" y="1550" textLength="59" lengthAdjust="spacingAndGlyphs" font-family="'DejaVu Serif Condensed', 'DejaVu Serif', 'Liberation Serif', serif" font-size="12.60" fill="#dc4a30" stroke="#dc4a30" stroke-width="0.5">Hàn Quốc</text><text x="648.6" y="1564.3" textLength="94" lengthAdjust="spacingAndGlyphs" font-family="'DejaVu Serif Condensed', 'DejaVu Serif', 'Liberation Serif', serif" font-size="11.25" fill="#ffffff" stroke="#ffffff" stroke-width="0.2">Xuất khẩu: 11,9 tỷ</text><text x="648.6" y="1580.5" textLength="98" lengthAdjust="spacingAndGlyphs" font-family="'DejaVu Serif Condensed', 'DejaVu Serif', 'Liberation Serif', serif" font-size="11.25" fill="#ffffff" stroke="#ffffff" stroke-width="0.2">Nhập khẩu: 29,7 tỷ</text><text x="814.8" y="1563.6" textLength="57.6" lengthAdjust="spacingAndGlyphs" font-family="'DejaVu Serif Condensed', 'DejaVu Serif', 'Liberation Serif', serif" font-size="12.60" fill="#dc4a30" stroke="#dc4a30" stroke-width="0.5">Nhật Bản</text><text x="828.7" y="1576.2" textLength="92.5" lengthAdjust="spacingAndGlyphs" font-family="'DejaVu Serif Condensed', 'DejaVu Serif', 'Liberation Serif', serif" font-size="11.25" fill="#575757" stroke="#575757" stroke-width="0.2">Xuất khẩu: 11,8 tỷ</text><text x="828.7" y="1589.8" textLength="95.6" lengthAdjust="spacingAndGlyphs" font-family="'DejaVu Serif Condensed', 'DejaVu Serif', 'Liberation Serif', serif" font-size="11.25" fill="#575757" stroke="#575757" stroke-width="0.2">Nhập khẩu: 12,6 tỷ</text><text x="752.7" y="1605" textLength="71.3" lengthAdjust="spacingAndGlyphs" font-family="'DejaVu Serif Condensed', 'DejaVu Serif', 'Liberation Serif', serif" font-size="12.60" fill="#dc4a30" stroke="#dc4a30" stroke-width="0.5">Trung Quốc</text><text x="771" y="1618.6" textLength="93.8" lengthAdjust="spacingAndGlyphs" font-family="'DejaVu Serif Condensed', 'DejaVu Serif', 'Liberation Serif', serif" font-size="11.25" fill="#575757" stroke="#575757" stroke-width="0.2">Xuất khẩu: 28,8 tỷ</text><text x="771" y="1632.5" textLength="97" lengthAdjust="spacingAndGlyphs" font-family="'DejaVu Serif Condensed', 'DejaVu Serif', 'Liberation Serif', serif" font-size="11.25" fill="#575757" stroke="#575757" stroke-width="0.2">Nhập khẩu: 62,3 tỷ</text><text x="768.5" y="1652.7" textLength="42" lengthAdjust="spacingAndGlyphs" font-family="'DejaVu Serif Condensed', 'DejaVu Serif', 'Liberation Serif', serif" font-size="12.60" fill="#dc4a30" stroke="#dc4a30" stroke-width="0.5">ASEAN</text><text x="811.7" y="1665.2" textLength="93.7" lengthAdjust="spacingAndGlyphs" font-family="'DejaVu Serif Condensed', 'DejaVu Serif', 'Liberation Serif', serif" font-size="11.25" fill="#575757" stroke="#575757" stroke-width="0.2">Xuất khẩu: 16,2 tỷ</text><text x="811.7" y="1679.4" textLength="97.4" lengthAdjust="spacingAndGlyphs" font-family="'DejaVu Serif Condensed', 'DejaVu Serif', 'Liberation Serif', serif" font-size="11.25" fill="#575757" stroke="#575757" stroke-width="0.2">Nhập khẩu: 24,7 tỷ</text></svg>
<div class="badge" style="left:112.2px;top:1869px;width:272.6px;height:33.0px;border-radius:9px"></div>
<svg class="a" style="left:0;top:1863.8px" width="1000" height="40" viewBox="0 1863.8 1000 40"><text x="129" y="1893.8" textLength="238.3" lengthAdjust="spacingAndGlyphs" font-family="'DejaVu Serif Condensed', 'DejaVu Serif', 'Liberation Serif', serif" font-weight="bold" font-size="18.3" fill="#1a1208">Cơ cấu xuất khẩu hàng hoá</text></svg>
<div class="badge" style="left:620px;top:1869px;width:272.1px;height:33.0px;border-radius:9px"></div>
<svg class="a" style="left:0;top:1863.8px" width="1000" height="40" viewBox="0 1863.8 1000 40"><text x="643.3" y="1893.8" textLength="242.9" lengthAdjust="spacingAndGlyphs" font-family="'DejaVu Serif Condensed', 'DejaVu Serif', 'Liberation Serif', serif" font-weight="bold" font-size="18.3" fill="#1a1208">Cơ cấu nhập khẩu hàng hoá</text></svg>
<svg class="a" style="left:0;top:1990px" width="1000" height="300" viewBox="0 1990 1000 300"><circle cx="250.5" cy="2137" r="129" fill="#3e6b48"/><path d="M250.5,2137 L263.31,2265.36 A129,129 0 0 1 198.24,2254.94 Z" fill="#283574"/><path d="M250.5,2137 L198.24,2254.94 A129,129 0 0 1 159.28,2228.22 Z" fill="#a81e25"/><line x1="152.7" y1="2256.4" x2="179.7" y2="2233.5" stroke="#111" stroke-width="1.2"/><circle cx="762.4" cy="2140" r="135" fill="#3e6b48"/><path d="M762.4,2140 L813.63,2264.90 A135,135 0 0 1 762.40,2275.00 Z" fill="#283574"/></svg>
<div class="pill" style="left:78px;top:2316px;width:41px;height:15.7px;border-radius:8px;background:#3e6b48"></div>
<div class="pill" style="left:78px;top:2371px;width:41px;height:15.7px;border-radius:8px;background:#283574"></div>
<div class="pill" style="left:78px;top:2423px;width:41px;height:15.7px;border-radius:8px;background:#a81e25"></div>
<div class="pill" style="left:648.9px;top:2324px;width:40.9px;height:15.8px;border-radius:8px;background:#3e6b48"></div>
<div class="pill" style="left:648.9px;top:2376px;width:40.9px;height:15.8px;border-radius:8px;background:#283574"></div>
<div class="badge" style="left:109.5px;top:2500px;width:292.9px;height:32.4px;border-radius:9px"></div>
<svg class="a" style="left:0;top:2493.8px" width="1000" height="40" viewBox="0 2493.8 1000 40"><text x="118.6" y="2523.8" textLength="269" lengthAdjust="spacingAndGlyphs" font-family="'DejaVu Serif Condensed', 'DejaVu Serif', 'Liberation Serif', serif" font-weight="bold" font-size="18.3" fill="#1a1208">Các mặt hàng xuất khẩu chính</text></svg>
<svg class="a" style="left:0;top:2535.7px" width="1000" height="26" viewBox="0 2535.7 1000 26"><text x="296.2" y="2555.7" textLength="90.5" lengthAdjust="spacingAndGlyphs" font-family="Liberation Sans, sans-serif" font-style="italic" font-size="12.5" fill="#222">(đơn vị: tỷ USD)</text></svg>
<div class="badge" style="left:593.3px;top:2507.4px;width:293.3px;height:32.4px;border-radius:9px"></div>
<svg class="a" style="left:0;top:2502.6px" width="1000" height="40" viewBox="0 2502.6 1000 40"><text x="604.3" y="2532.6" textLength="272.7" lengthAdjust="spacingAndGlyphs" font-family="'DejaVu Serif Condensed', 'DejaVu Serif', 'Liberation Serif', serif" font-weight="bold" font-size="18.3" fill="#1a1208">Các mặt hàng nhập khẩu chính</text></svg>
<svg class="a" style="left:0;top:2546.3px" width="1000" height="26" viewBox="0 2546.3 1000 26"><text x="828.6" y="2566.3" textLength="91.2" lengthAdjust="spacingAndGlyphs" font-family="Liberation Sans, sans-serif" font-style="italic" font-size="12.5" fill="#222">(đơn vị: tỷ USD)</text></svg>
<div class="bar n" style="left:127.2px;top:2621.3px;width:331.8px;height:41px"></div>
<div class="bar n" style="left:127.2px;top:2678.6px;width:309.2px;height:41px"></div>
<div class="bar n" style="left:127.2px;top:2735.8px;width:222.3px;height:41px"></div>
<div class="bar n" style="left:127.2px;top:2793.9px;width:209.9px;height:41px"></div>
<div class="bar n" style="left:127.2px;top:2851.2px;width:136.5px;height:41px"></div>
<div class="bar n" style="left:127.2px;top:2909px;width:107.2px;height:41px"></div>
<div class="bar n" style="left:127.2px;top:2966.6px;width:73.4px;height:41px"></div>
<div class="bar r" style="left:596.1px;top:2619.7px;width:395.2px;height:42.3px"></div>
<div class="bar r" style="left:596.1px;top:2679.2px;width:271.8px;height:42.3px"></div>
<div class="bar r" style="left:596.1px;top:2738.1px;width:106.3px;height:42.3px"></div>
<div class="bar r" style="left:596.1px;top:2797.3px;width:87.3px;height:42.3px"></div>
<div class="bar r" style="left:596.1px;top:2856.3px;width:71.2px;height:42.3px"></div>
<div class="bar r" style="left:596.1px;top:2915.7px;width:68.2px;height:42.3px"></div>
<div class="bar r" style="left:596.1px;top:2974.6px;width:53.2px;height:42.3px"></div>
<div class="badge" style="left:805.5px;top:3043.8px;width:155.0px;height:24.2px;border-radius:11.5px"></div>
<svg class="a" style="left:0;top:3028.6px" width="1000" height="40" viewBox="0 3028.6 1000 40"><text x="826.4" y="3058.6" textLength="99.3" lengthAdjust="spacingAndGlyphs" font-family="'DejaVu Serif Condensed', 'DejaVu Serif', 'Liberation Serif', serif" font-weight="bold" font-size="18.3" fill="#1a1208">congthuong.vn</text></svg>
<svg class="a" style="left:0;top:0" width="1000" height="3065" viewBox="0 0 1000 3065"><text x="111.9" y="784.6" textLength="68.8" lengthAdjust="spacingAndGlyphs" font-family="'DejaVu Serif Condensed', 'DejaVu Serif', 'Liberation Serif', serif" font-size="13.05" fill="#111" stroke="#111" stroke-width="0.55">Xuất khẩu</text><text x="112.5" y="816.8" textLength="72.0" lengthAdjust="spacingAndGlyphs" font-family="'DejaVu Serif Condensed', 'DejaVu Serif', 'Liberation Serif', serif" font-size="13.05" fill="#111" stroke="#111" stroke-width="0.55">Nhập khẩu</text><text x="66.3" y="1095.6" textLength="24.3" lengthAdjust="spacingAndGlyphs" text-anchor="middle" font-family="Liberation Sans, sans-serif" font-size="13.5" fill="#fff" stroke="#fff" stroke-width="0.5">72.7</text><text x="102.8" y="1093.8" textLength="24.3" lengthAdjust="spacingAndGlyphs" text-anchor="middle" font-family="Liberation Sans, sans-serif" font-size="13.5" fill="#fff" stroke="#fff" stroke-width="0.5">73.5</text><text x="77.6" y="1267.6" textLength="34.3" lengthAdjust="spacingAndGlyphs" text-anchor="middle" font-family="Liberation Sans, sans-serif" font-size="16" font-weight="bold" fill="#111">2013</text><text x="167.8" y="1071.7" textLength="24.3" lengthAdjust="spacingAndGlyphs" text-anchor="middle" font-family="Liberation Sans, sans-serif" font-size="13.5" fill="#fff" stroke="#fff" stroke-width="0.5">83.5</text><text x="204.2" y="1074.6" textLength="24.3" lengthAdjust="spacingAndGlyphs" text-anchor="middle" font-family="Liberation Sans, sans-serif" font-size="13.5" fill="#fff" stroke="#fff" stroke-width="0.5">82.2</text><text x="179.8" y="1267.6" textLength="34.3" lengthAdjust="spacingAndGlyphs" text-anchor="middle" font-family="Liberation Sans, sans-serif" font-size="16" font-weight="bold" fill="#111">2014</text><text x="269.4" y="1052.2" textLength="24.3" lengthAdjust="spacingAndGlyphs" text-anchor="middle" font-family="Liberation Sans, sans-serif" font-size="13.5" fill="#fff" stroke="#fff" stroke-width="0.5">92.3</text><text x="305.8" y="1044.9" textLength="24.3" lengthAdjust="spacingAndGlyphs" text-anchor="middle" font-family="Liberation Sans, sans-serif" font-size="13.5" fill="#fff" stroke="#fff" stroke-width="0.5">95.6</text><text x="290.0" y="1267.6" textLength="34.3" lengthAdjust="spacingAndGlyphs" text-anchor="middle" font-family="Liberation Sans, sans-serif" font-size="16" font-weight="bold" fill="#111">2015</text><text x="370.8" y="1042.2" textLength="31.3" lengthAdjust="spacingAndGlyphs" text-anchor="middle" font-family="Liberation Sans, sans-serif" font-size="13.5" fill="#fff" stroke="#fff" stroke-width="0.5">96.83</text><text x="407.2" y="1046.2" textLength="31.3" lengthAdjust="spacingAndGlyphs" text-anchor="middle" font-family="Liberation Sans, sans-serif" font-size="13.5" fill="#fff" stroke="#fff" stroke-width="0.5">95.03</text><text x="390.0" y="1267.6" textLength="34.3" lengthAdjust="spacingAndGlyphs" text-anchor="middle" font-family="Liberation Sans, sans-serif" font-size="16" font-weight="bold" fill="#111">2016</text><text x="472.3" y="1001.5" textLength="31.3" lengthAdjust="spacingAndGlyphs" text-anchor="middle" font-family="Liberation Sans, sans-serif" font-size="13.5" fill="#fff" stroke="#fff" stroke-width="0.5">115.2</text><text x="508.7" y="994.6" textLength="31.3" lengthAdjust="spacingAndGlyphs" text-anchor="middle" font-family="Liberation Sans, sans-serif" font-size="13.5" fill="#fff" stroke="#fff" stroke-width="0.5">118.3</text><text x="497.5" y="1267.6" textLength="34.3" lengthAdjust="spacingAndGlyphs" text-anchor="middle" font-family="Liberation Sans, sans-serif" font-size="16" font-weight="bold" fill="#111">2017</text><text x="573.9" y="960.7" textLength="31.3" lengthAdjust="spacingAndGlyphs" text-anchor="middle" font-family="Liberation Sans, sans-serif" font-size="13.5" fill="#fff" stroke="#fff" stroke-width="0.5">133.6</text><text x="610.2" y="967.4" textLength="31.3" lengthAdjust="spacingAndGlyphs" text-anchor="middle" font-family="Liberation Sans, sans-serif" font-size="13.5" fill="#fff" stroke="#fff" stroke-width="0.5">130.6</text><text x="591.0" y="1267.6" textLength="34.3" lengthAdjust="spacingAndGlyphs" text-anchor="middle" font-family="Liberation Sans, sans-serif" font-size="16" font-weight="bold" fill="#111">2018</text><text x="675.4" y="935.3" textLength="31.3" lengthAdjust="spacingAndGlyphs" text-anchor="middle" font-family="Liberation Sans, sans-serif" font-size="13.5" fill="#fff" stroke="#fff" stroke-width="0.5">145.1</text><text x="711.8" y="939.3" textLength="31.3" lengthAdjust="spacingAndGlyphs" text-anchor="middle" font-family="Liberation Sans, sans-serif" font-size="13.5" fill="#fff" stroke="#fff" stroke-width="0.5">143.3</text><text x="695.0" y="1267.6" textLength="34.3" lengthAdjust="spacingAndGlyphs" text-anchor="middle" font-family="Liberation Sans, sans-serif" font-size="16" font-weight="bold" fill="#111">2019</text><text x="776.9" y="933.7" textLength="31.3" lengthAdjust="spacingAndGlyphs" text-anchor="middle" font-family="Liberation Sans, sans-serif" font-size="13.5" fill="#fff" stroke="#fff" stroke-width="0.5">145.8</text><text x="813.2" y="948.1" textLength="31.3" lengthAdjust="spacingAndGlyphs" text-anchor="middle" font-family="Liberation Sans, sans-serif" font-size="13.5" fill="#fff" stroke="#fff" stroke-width="0.5">139.3</text><text x="794.0" y="1267.6" textLength="34.3" lengthAdjust="spacingAndGlyphs" text-anchor="middle" font-family="Liberation Sans, sans-serif" font-size="16" font-weight="bold" fill="#111">2020</text><text x="878.4" y="846.3" textLength="31.3" lengthAdjust="spacingAndGlyphs" text-anchor="middle" font-family="Liberation Sans, sans-serif" font-size="13.5" fill="#fff" stroke="#fff" stroke-width="0.5">185.3</text><text x="914.8" y="840.3" textLength="24.3" lengthAdjust="spacingAndGlyphs" text-anchor="middle" font-family="Liberation Sans, sans-serif" font-size="13.5" fill="#fff" stroke="#fff" stroke-width="0.5">188</text><text x="900.5" y="1267.6" textLength="34.3" lengthAdjust="spacingAndGlyphs" text-anchor="middle" font-family="Liberation Sans, sans-serif" font-size="16" font-weight="bold" fill="#111">2021</text><text x="234.0" y="2100.5" textLength="58.8" lengthAdjust="spacingAndGlyphs" font-family="Liberation Sans, sans-serif" font-size="17.3" fill="#fff" stroke="#fff" stroke-width="0.4">85,85%</text><text x="210.0" y="2249.6" textLength="49.3" lengthAdjust="spacingAndGlyphs" font-family="Liberation Sans, sans-serif" font-size="17.3" fill="#fff" stroke="#fff" stroke-width="0.4">8,52%</text><text x="95.4" y="2271.0" textLength="49.2" lengthAdjust="spacingAndGlyphs" font-family="Liberation Sans, sans-serif" font-size="17.3" fill="#111" stroke="#111" stroke-width="0.6">5,63%</text><text x="754.6" y="2064.8" textLength="49.9" lengthAdjust="spacingAndGlyphs" font-family="Liberation Sans, sans-serif" font-size="17.3" fill="#fff" stroke="#fff" stroke-width="0.4">93,8%</text><text x="768.7" y="2249.6" textLength="40.6" lengthAdjust="spacingAndGlyphs" font-family="Liberation Sans, sans-serif" font-size="17.3" fill="#fff" stroke="#fff" stroke-width="0.4">6,2%</text><text x="142.1" y="2325.0" textLength="290.8" lengthAdjust="spacingAndGlyphs" font-family="'DejaVu Serif Condensed', 'DejaVu Serif', 'Liberation Serif', serif" font-size="18.63" fill="#111" stroke="#111" stroke-width="0.55">Nhóm ngành nông, lâm, thuỷ sản</text><text x="142.1" y="2348.6" textLength="138.6" lengthAdjust="spacingAndGlyphs" font-family="'DejaVu Serif Condensed', 'DejaVu Serif', 'Liberation Serif', serif" font-size="18.63" fill="#111" stroke="#111" stroke-width="0.55">đạt <tspan fill="#a3222b" stroke="#a3222b">15,78 tỷ USD</tspan></text><text x="142.1" y="2383.6" textLength="275.3" lengthAdjust="spacingAndGlyphs" font-family="'DejaVu Serif Condensed', 'DejaVu Serif', 'Liberation Serif', serif" font-size="18.63" fill="#111" stroke="#111" stroke-width="0.55">Nhóm nhiên liệu và khoáng sản</text><text x="142.1" y="2407.1" textLength="128.6" lengthAdjust="spacingAndGlyphs" font-family="'DejaVu Serif Condensed', 'DejaVu Serif', 'Liberation Serif', serif" font-size="18.63" fill="#111" stroke="#111" stroke-width="0.55">đạt <tspan fill="#a3222b" stroke="#a3222b">1,78 tỷ USD</tspan></text><text x="142.1" y="2430.7" textLength="240.0" lengthAdjust="spacingAndGlyphs" font-family="'DejaVu Serif Condensed', 'DejaVu Serif', 'Liberation Serif', serif" font-size="18.63" fill="#111" stroke="#111" stroke-width="0.55">Nhóm công nghiệp chế biến</text><text x="142.1" y="2454.3" textLength="148.6" lengthAdjust="spacingAndGlyphs" font-family="'DejaVu Serif Condensed', 'DejaVu Serif', 'Liberation Serif', serif" font-size="18.63" fill="#111" stroke="#111" stroke-width="0.55">đạt <tspan fill="#a3222b" stroke="#a3222b">159,12 tỷ USD</tspan></text><text x="715.8" y="2335.0" textLength="192.2" lengthAdjust="spacingAndGlyphs" font-family="'DejaVu Serif Condensed', 'DejaVu Serif', 'Liberation Serif', serif" font-size="18.63" fill="#111" stroke="#111" stroke-width="0.55">Nhóm tư liệu sản xuất</text><text x="715.8" y="2358.2" textLength="149.9" lengthAdjust="spacingAndGlyphs" font-family="'DejaVu Serif Condensed', 'DejaVu Serif', 'Liberation Serif', serif" font-size="18.63" fill="#111" stroke="#111" stroke-width="0.55">đạt 176,36 tỷ USD</text><text x="715.8" y="2389.2" textLength="189.4" lengthAdjust="spacingAndGlyphs" font-family="'DejaVu Serif Condensed', 'DejaVu Serif', 'Liberation Serif', serif" font-size="18.63" fill="#111" stroke="#111" stroke-width="0.55">Nhóm hàng tiêu dùng</text><text x="715.8" y="2412.4" textLength="97.1" lengthAdjust="spacingAndGlyphs" font-family="'DejaVu Serif Condensed', 'DejaVu Serif', 'Liberation Serif', serif" font-size="18.63" fill="#111" stroke="#111" stroke-width="0.55">đạt 11,67 tỷ</text><text x="411.9" y="2648.5" textLength="33.3" lengthAdjust="spacingAndGlyphs" font-family="Liberation Sans, sans-serif" font-size="16.5" fill="#fff" stroke="#fff" stroke-width="0.6">29,4</text><text x="28.7" y="2635.0" textLength="64.6" lengthAdjust="spacingAndGlyphs" font-family="'DejaVu Serif Condensed', 'DejaVu Serif', 'Liberation Serif', serif" font-size="12.6" fill="#111" stroke="#111" stroke-width="0.55">Điện thoại</text><text x="25.3" y="2650.8" textLength="71.9" lengthAdjust="spacingAndGlyphs" font-family="'DejaVu Serif Condensed', 'DejaVu Serif', 'Liberation Serif', serif" font-size="12.6" fill="#111" stroke="#111" stroke-width="0.55">và linh kiện</text><text x="388.6" y="2701.4" textLength="32.1" lengthAdjust="spacingAndGlyphs" font-family="Liberation Sans, sans-serif" font-size="16.5" fill="#fff" stroke="#fff" stroke-width="0.6">27,4</text><text x="25.2" y="2697.9" textLength="78.8" lengthAdjust="spacingAndGlyphs" font-family="'DejaVu Serif Condensed', 'DejaVu Serif', 'Liberation Serif', serif" font-size="12.6" fill="#111" stroke="#111" stroke-width="0.55">Điện tử, máy</text><text x="15.5" y="2714.5" textLength="101.4" lengthAdjust="spacingAndGlyphs" font-family="'DejaVu Serif Condensed', 'DejaVu Serif', 'Liberation Serif', serif" font-size="12.6" fill="#111" stroke="#111" stroke-width="0.55">tính và linh kiện</text><text x="313.6" y="2759.3" textLength="32.1" lengthAdjust="spacingAndGlyphs" font-family="Liberation Sans, sans-serif" font-size="16.5" fill="#fff" stroke="#fff" stroke-width="0.6">19,7</text><text x="10.8" y="2750.6" textLength="108.4" lengthAdjust="spacingAndGlyphs" font-family="'DejaVu Serif Condensed', 'DejaVu Serif', 'Liberation Serif', serif" font-size="12.6" fill="#111" stroke="#111" stroke-width="0.55">Máy móc thiết bị,</text><text x="10.0" y="2766.8" textLength="112.3" lengthAdjust="spacingAndGlyphs" font-family="'DejaVu Serif Condensed', 'DejaVu Serif', 'Liberation Serif', serif" font-size="12.6" fill="#111" stroke="#111" stroke-width="0.55">dụng cụ, phụ tùng</text><text x="296.3" y="2817.0" textLength="32.0" lengthAdjust="spacingAndGlyphs" font-family="Liberation Sans, sans-serif" font-size="16.5" fill="#fff" stroke="#fff" stroke-width="0.6">18,6</text><text x="36.7" y="2810.6" textLength="56.2" lengthAdjust="spacingAndGlyphs" font-family="'DejaVu Serif Condensed', 'DejaVu Serif', 'Liberation Serif', serif" font-size="12.6" fill="#111" stroke="#111" stroke-width="0.55">Hàng dệt</text><text x="29.4" y="2827.2" textLength="74.6" lengthAdjust="spacingAndGlyphs" font-family="'DejaVu Serif Condensed', 'DejaVu Serif', 'Liberation Serif', serif" font-size="12.6" fill="#111" stroke="#111" stroke-width="0.55">và may mặc</text><text x="227.4" y="2873.3" textLength="30.4" lengthAdjust="spacingAndGlyphs" font-family="Liberation Sans, sans-serif" font-size="16.5" fill="#fff" stroke="#fff" stroke-width="0.6">12,1</text><text x="36.7" y="2874.4" textLength="53.9" lengthAdjust="spacingAndGlyphs" font-family="'DejaVu Serif Condensed', 'DejaVu Serif', 'Liberation Serif', serif" font-size="12.6" fill="#111" stroke="#111" stroke-width="0.55">Giày dép</text><text x="196.8" y="2928.8" textLength="22.8" lengthAdjust="spacingAndGlyphs" font-family="Liberation Sans, sans-serif" font-size="16.5" fill="#fff" stroke="#fff" stroke-width="0.6">9,5</text><text x="29.4" y="2922.9" textLength="60.4" lengthAdjust="spacingAndGlyphs" font-family="'DejaVu Serif Condensed', 'DejaVu Serif', 'Liberation Serif', serif" font-size="12.6" fill="#111" stroke="#111" stroke-width="0.55">Gỗ và sản</text><text x="26.0" y="2939.5" textLength="70.0" lengthAdjust="spacingAndGlyphs" font-family="'DejaVu Serif Condensed', 'DejaVu Serif', 'Liberation Serif', serif" font-size="12.6" fill="#111" stroke="#111" stroke-width="0.55">phẩm từ gỗ</text><text x="163.5" y="2990.4" textLength="22.8" lengthAdjust="spacingAndGlyphs" font-family="Liberation Sans, sans-serif" font-size="16.5" fill="#fff" stroke="#fff" stroke-width="0.6">6,5</text><text x="8.5" y="2985.1" textLength="102.2" lengthAdjust="spacingAndGlyphs" font-family="'DejaVu Serif Condensed', 'DejaVu Serif', 'Liberation Serif', serif" font-size="12.6" fill="#111" stroke="#111" stroke-width="0.55">Phương tiện vận</text><text x="13.6" y="3002.2" textLength="94.8" lengthAdjust="spacingAndGlyphs" font-family="'DejaVu Serif Condensed', 'DejaVu Serif', 'Liberation Serif', serif" font-size="12.6" fill="#111" stroke="#111" stroke-width="0.55">tải và phụ tùng</text><text x="923.2" y="2644.1" textLength="33.3" lengthAdjust="spacingAndGlyphs" font-family="Liberation Sans, sans-serif" font-size="16.5" fill="#fff" stroke="#fff" stroke-width="0.6">39,4</text><text x="484.7" y="2637.5" textLength="107.8" lengthAdjust="spacingAndGlyphs" font-family="'DejaVu Serif Condensed', 'DejaVu Serif', 'Liberation Serif', serif" font-size="12.6" fill="#111" stroke="#111" stroke-width="0.55">Điện tử, máy tính</text><text x="503.0" y="2654.2" textLength="72.0" lengthAdjust="spacingAndGlyphs" font-family="'DejaVu Serif Condensed', 'DejaVu Serif', 'Liberation Serif', serif" font-size="12.6" fill="#111" stroke="#111" stroke-width="0.55">và linh kiện</text><text x="816.0" y="2699.3" textLength="32.3" lengthAdjust="spacingAndGlyphs" font-family="Liberation Sans, sans-serif" font-size="16.5" fill="#fff" stroke="#fff" stroke-width="0.6">27,1</text><text x="483.7" y="2692.5" textLength="108.0" lengthAdjust="spacingAndGlyphs" font-family="'DejaVu Serif Condensed', 'DejaVu Serif', 'Liberation Serif', serif" font-size="12.6" fill="#111" stroke="#111" stroke-width="0.55">Máy móc thiết bị,</text><text x="483.0" y="2709.2" textLength="108.7" lengthAdjust="spacingAndGlyphs" font-family="'DejaVu Serif Condensed', 'DejaVu Serif', 'Liberation Serif', serif" font-size="12.6" fill="#111" stroke="#111" stroke-width="0.55">dụng cụ phụ tùng</text><text x="659.8" y="2765.7" textLength="32.4" lengthAdjust="spacingAndGlyphs" font-family="Liberation Sans, sans-serif" font-size="16.5" fill="#fff" stroke="#fff" stroke-width="0.6">10,6</text><text x="510.5" y="2759.2" textLength="64.2" lengthAdjust="spacingAndGlyphs" font-family="'DejaVu Serif Condensed', 'DejaVu Serif', 'Liberation Serif', serif" font-size="12.6" fill="#111" stroke="#111" stroke-width="0.55">Điện thoại</text><text x="506.3" y="2775.8" textLength="72.4" lengthAdjust="spacingAndGlyphs" font-family="'DejaVu Serif Condensed', 'DejaVu Serif', 'Liberation Serif', serif" font-size="12.6" fill="#111" stroke="#111" stroke-width="0.55">và linh kiện</text><text x="640.3" y="2823.7" textLength="23.2" lengthAdjust="spacingAndGlyphs" font-family="Liberation Sans, sans-serif" font-size="16.5" fill="#fff" stroke="#fff" stroke-width="0.6">8,7</text><text x="540.0" y="2823.3" textLength="20.0" lengthAdjust="spacingAndGlyphs" font-family="'DejaVu Serif Condensed', 'DejaVu Serif', 'Liberation Serif', serif" font-size="12.6" fill="#111" stroke="#111" stroke-width="0.55">Vải</text><text x="631.8" y="2877.9" textLength="22.0" lengthAdjust="spacingAndGlyphs" font-family="Liberation Sans, sans-serif" font-size="16.5" fill="#fff" stroke="#fff" stroke-width="0.6">7,1</text><text x="516.7" y="2886.7" textLength="54.6" lengthAdjust="spacingAndGlyphs" font-family="'DejaVu Serif Condensed', 'DejaVu Serif', 'Liberation Serif', serif" font-size="12.6" fill="#111" stroke="#111" stroke-width="0.55">Chất dẻo</text><text x="631.5" y="2943.2" textLength="23.2" lengthAdjust="spacingAndGlyphs" font-family="Liberation Sans, sans-serif" font-size="16.5" fill="#fff" stroke="#fff" stroke-width="0.6">6,8</text><text x="518.3" y="2942.5" textLength="51.7" lengthAdjust="spacingAndGlyphs" font-family="'DejaVu Serif Condensed', 'DejaVu Serif', 'Liberation Serif', serif" font-size="12.6" fill="#111" stroke="#111" stroke-width="0.55">Sắt thép</text><text x="623.3" y="2997.1" textLength="22.7" lengthAdjust="spacingAndGlyphs" font-family="Liberation Sans, sans-serif" font-size="16.5" fill="#fff" stroke="#fff" stroke-width="0.6">5,3</text><text x="534.7" y="3003.3" textLength="24.0" lengthAdjust="spacingAndGlyphs" font-family="'DejaVu Serif Condensed', 'DejaVu Serif', 'Liberation Serif', serif" font-size="12.6" fill="#111" stroke="#111" stroke-width="0.55">Ô tô</text></svg>

</body>
</html>
